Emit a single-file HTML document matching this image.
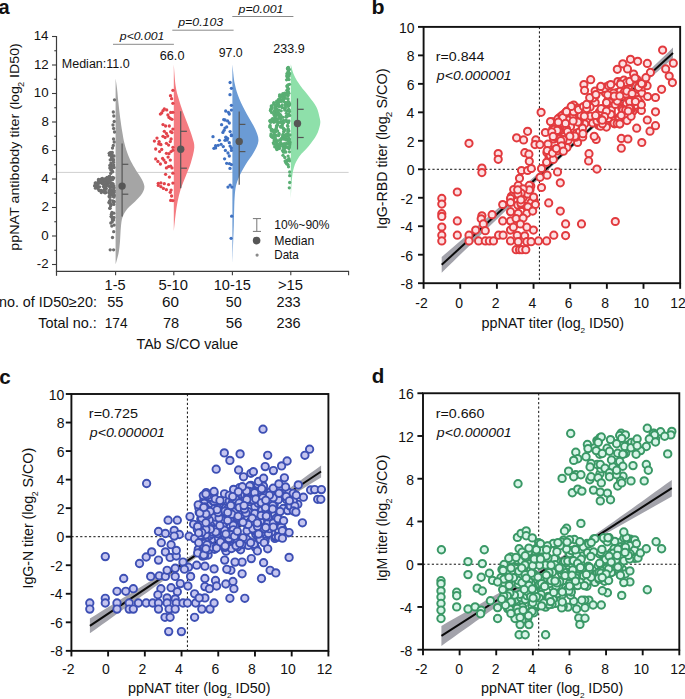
<!DOCTYPE html>
<html><head><meta charset="utf-8"><title>Figure</title>
<style>
html,body{margin:0;padding:0;background:#fff;}
body{width:685px;height:699px;overflow:hidden;}
svg{display:block;}
text{font-family:"Liberation Sans", sans-serif;}
</style></head>
<body>
<svg width="685" height="699" viewBox="0 0 685 699">
<rect width="685" height="699" fill="#fff"/>
<text x="-1.60" y="14.00" font-size="20.00" font-weight="bold" fill="#111" textLength="11.12" lengthAdjust="spacingAndGlyphs">a</text>
<text x="371.40" y="14.40" font-size="20.56" font-weight="bold" fill="#111" textLength="13.07" lengthAdjust="spacingAndGlyphs">b</text>
<text x="-0.82" y="383.50" font-size="20.19" font-weight="bold" fill="#111" textLength="11.46" lengthAdjust="spacingAndGlyphs">c</text>
<text x="371.88" y="383.40" font-size="20.00" font-weight="bold" fill="#111" textLength="12.58" lengthAdjust="spacingAndGlyphs">d</text>
<line x1="56.50" y1="172.40" x2="348.60" y2="172.40" stroke="#cfcfcf" stroke-width="1"/>
<path d="M115.60,78.60 L115.60,78.60 C115.85,80.38 116.62,85.13 117.10,89.30 C117.58,93.47 117.98,98.83 118.50,103.60 C119.02,108.37 119.57,113.15 120.20,117.90 C120.83,122.65 121.58,127.82 122.30,132.10 C123.02,136.38 123.53,139.78 124.50,143.60 C125.47,147.42 126.83,151.67 128.10,155.00 C129.37,158.33 130.60,160.75 132.10,163.60 C133.60,166.45 135.52,169.53 137.10,172.10 C138.68,174.67 140.38,176.60 141.60,179.00 C142.82,181.40 144.32,184.08 144.40,186.50 C144.48,188.92 143.65,191.02 142.10,193.50 C140.55,195.98 137.52,198.88 135.10,201.40 C132.68,203.92 129.68,205.98 127.60,208.60 C125.52,211.22 123.72,214.02 122.60,217.10 C121.48,220.18 121.33,223.05 120.90,227.10 C120.47,231.15 120.38,237.10 120.00,241.40 C119.62,245.70 119.33,249.03 118.60,252.90 C117.87,256.77 116.10,262.65 115.60,264.60 L115.60,264.60 Z" fill="#a5a5a5"/>
<path d="M173.80,64.60 L173.80,64.60 C174.10,68.13 174.80,80.13 175.60,85.80 C176.40,91.47 177.40,94.32 178.60,98.60 C179.80,102.88 181.27,107.20 182.80,111.50 C184.33,115.80 186.22,120.10 187.80,124.40 C189.38,128.70 191.22,133.43 192.30,137.30 C193.38,141.17 194.55,143.32 194.30,147.60 C194.05,151.88 192.22,158.28 190.80,163.00 C189.38,167.72 187.47,171.60 185.80,175.90 C184.13,180.20 182.17,184.52 180.80,188.80 C179.43,193.08 178.47,197.32 177.60,201.60 C176.73,205.88 176.23,209.55 175.60,214.50 C174.97,219.45 174.10,228.50 173.80,231.30 L173.80,231.30 Z" fill="#f47b81"/>
<path d="M232.40,64.50 L232.40,64.50 C232.80,67.75 233.63,78.25 234.80,84.00 C235.97,89.75 237.40,94.00 239.40,99.00 C241.40,104.00 244.17,109.00 246.80,114.00 C249.43,119.00 253.27,124.50 255.20,129.00 C257.13,133.50 258.70,137.00 258.40,141.00 C258.10,145.00 255.57,149.00 253.40,153.00 C251.23,157.00 248.00,160.50 245.40,165.00 C242.80,169.50 239.57,175.00 237.80,180.00 C236.03,185.00 235.47,187.50 234.80,195.00 C234.13,202.50 234.20,213.50 233.80,225.00 C233.40,236.50 232.63,257.50 232.40,264.00 L232.40,264.00 Z" fill="#6b9bd5"/>
<path d="M290.80,64.30 L290.80,64.30 C291.33,66.08 292.40,71.42 294.00,75.00 C295.60,78.58 297.90,82.22 300.40,85.80 C302.90,89.38 306.32,92.93 309.00,96.50 C311.68,100.07 314.72,103.62 316.50,107.20 C318.28,110.78 319.10,115.13 319.70,118.00 C320.30,120.87 320.63,121.55 320.10,124.40 C319.57,127.25 318.35,131.53 316.50,135.10 C314.65,138.67 311.87,142.22 309.00,145.80 C306.13,149.38 301.80,153.02 299.30,156.60 C296.80,160.18 295.25,163.37 294.00,167.30 C292.75,171.23 292.33,174.83 291.80,180.20 C291.27,185.57 290.97,196.28 290.80,199.50 L290.80,199.50 Z" fill="#8ee0aa"/>
<g fill="#6e6e6e"><circle cx="114.5" cy="99.8" r="1.65"/><circle cx="113.3" cy="112.0" r="1.65"/><circle cx="113.8" cy="116.0" r="1.65"/><circle cx="114.2" cy="121.5" r="1.65"/><circle cx="113.0" cy="125.0" r="1.65"/><circle cx="113.6" cy="128.5" r="1.65"/><circle cx="114.5" cy="132.0" r="1.65"/><circle cx="113.5" cy="139.0" r="1.65"/><circle cx="114.2" cy="142.0" r="1.65"/><circle cx="113.3" cy="145.5" r="1.65"/><circle cx="112.5" cy="148.0" r="1.65"/><circle cx="110.0" cy="153.5" r="1.65"/><circle cx="112.0" cy="154.5" r="1.65"/><circle cx="114.0" cy="156.0" r="1.65"/><circle cx="111.5" cy="158.0" r="1.65"/><circle cx="113.5" cy="160.0" r="1.65"/><circle cx="110.2" cy="159.8" r="1.65"/><circle cx="109.8" cy="168.1" r="1.65"/><circle cx="111.2" cy="165.2" r="1.65"/><circle cx="111.5" cy="153.0" r="1.65"/><circle cx="111.0" cy="152.5" r="1.65"/><circle cx="109.2" cy="153.3" r="1.65"/><circle cx="113.4" cy="162.3" r="1.65"/><circle cx="110.1" cy="154.7" r="1.65"/><circle cx="114.0" cy="167.5" r="1.65"/><circle cx="111.4" cy="166.2" r="1.65"/><circle cx="109.3" cy="176.4" r="1.65"/><circle cx="110.7" cy="173.4" r="1.65"/><circle cx="109.6" cy="155.2" r="1.65"/><circle cx="113.3" cy="159.4" r="1.65"/><circle cx="112.0" cy="156.1" r="1.65"/><circle cx="111.3" cy="167.8" r="1.65"/><circle cx="109.8" cy="165.5" r="1.65"/><circle cx="109.8" cy="153.0" r="1.65"/><circle cx="111.5" cy="168.9" r="1.65"/><circle cx="112.2" cy="159.5" r="1.65"/><circle cx="110.9" cy="163.1" r="1.65"/><circle cx="112.7" cy="171.8" r="1.65"/><circle cx="112.1" cy="157.7" r="1.65"/><circle cx="113.6" cy="164.9" r="1.65"/><circle cx="110.8" cy="170.1" r="1.65"/><circle cx="109.6" cy="176.5" r="1.65"/><circle cx="113.1" cy="162.2" r="1.65"/><circle cx="111.5" cy="155.4" r="1.65"/><circle cx="112.3" cy="152.5" r="1.65"/><circle cx="112.2" cy="171.0" r="1.65"/><circle cx="102.4" cy="191.3" r="1.65"/><circle cx="106.3" cy="188.5" r="1.65"/><circle cx="103.4" cy="186.6" r="1.65"/><circle cx="113.2" cy="190.8" r="1.65"/><circle cx="107.5" cy="184.9" r="1.65"/><circle cx="110.4" cy="178.4" r="1.65"/><circle cx="114.1" cy="187.7" r="1.65"/><circle cx="101.3" cy="190.5" r="1.65"/><circle cx="107.7" cy="183.5" r="1.65"/><circle cx="108.9" cy="177.8" r="1.65"/><circle cx="98.7" cy="180.1" r="1.65"/><circle cx="111.3" cy="178.3" r="1.65"/><circle cx="102.3" cy="179.5" r="1.65"/><circle cx="111.7" cy="183.6" r="1.65"/><circle cx="106.7" cy="178.7" r="1.65"/><circle cx="111.9" cy="186.1" r="1.65"/><circle cx="111.7" cy="190.4" r="1.65"/><circle cx="103.0" cy="181.8" r="1.65"/><circle cx="111.9" cy="183.1" r="1.65"/><circle cx="101.3" cy="192.6" r="1.65"/><circle cx="100.5" cy="180.2" r="1.65"/><circle cx="104.5" cy="181.1" r="1.65"/><circle cx="99.5" cy="186.8" r="1.65"/><circle cx="109.3" cy="177.5" r="1.65"/><circle cx="105.7" cy="183.3" r="1.65"/><circle cx="109.5" cy="192.6" r="1.65"/><circle cx="106.6" cy="185.6" r="1.65"/><circle cx="95.5" cy="188.2" r="1.65"/><circle cx="110.5" cy="191.7" r="1.65"/><circle cx="110.7" cy="191.3" r="1.65"/><circle cx="102.3" cy="183.6" r="1.65"/><circle cx="108.8" cy="179.0" r="1.65"/><circle cx="102.4" cy="178.4" r="1.65"/><circle cx="98.5" cy="180.7" r="1.65"/><circle cx="95.7" cy="182.8" r="1.65"/><circle cx="107.2" cy="177.4" r="1.65"/><circle cx="104.9" cy="179.0" r="1.65"/><circle cx="112.9" cy="177.8" r="1.65"/><circle cx="97.3" cy="187.2" r="1.65"/><circle cx="101.8" cy="181.4" r="1.65"/><circle cx="97.0" cy="183.2" r="1.65"/><circle cx="114.1" cy="190.9" r="1.65"/><circle cx="103.9" cy="184.8" r="1.65"/><circle cx="101.7" cy="178.8" r="1.65"/><circle cx="99.9" cy="182.8" r="1.65"/><circle cx="99.1" cy="190.6" r="1.65"/><circle cx="113.7" cy="177.8" r="1.65"/><circle cx="97.2" cy="185.8" r="1.65"/><circle cx="94.8" cy="186.0" r="1.65"/><circle cx="113.8" cy="185.8" r="1.65"/><circle cx="108.9" cy="191.1" r="1.65"/><circle cx="102.1" cy="181.6" r="1.65"/><circle cx="110.2" cy="180.1" r="1.65"/><circle cx="109.8" cy="185.9" r="1.65"/><circle cx="99.1" cy="182.6" r="1.65"/><circle cx="113.9" cy="190.3" r="1.65"/><circle cx="110.8" cy="191.0" r="1.65"/><circle cx="109.5" cy="190.4" r="1.65"/><circle cx="105.1" cy="181.0" r="1.65"/><circle cx="95.2" cy="183.1" r="1.65"/><circle cx="106.8" cy="177.8" r="1.65"/><circle cx="108.3" cy="181.5" r="1.65"/><circle cx="105.8" cy="192.6" r="1.65"/><circle cx="114.0" cy="192.3" r="1.65"/><circle cx="104.5" cy="192.6" r="1.65"/><circle cx="99.6" cy="180.9" r="1.65"/><circle cx="99.3" cy="180.5" r="1.65"/><circle cx="112.2" cy="187.3" r="1.65"/><circle cx="104.9" cy="190.8" r="1.65"/><circle cx="110.2" cy="187.8" r="1.65"/><circle cx="109.5" cy="178.7" r="1.65"/><circle cx="110.6" cy="191.9" r="1.65"/><circle cx="104.3" cy="189.3" r="1.65"/><circle cx="110.4" cy="180.2" r="1.65"/><circle cx="110.3" cy="182.7" r="1.65"/><circle cx="105.2" cy="192.8" r="1.65"/><circle cx="113.1" cy="183.8" r="1.65"/><circle cx="98.2" cy="188.9" r="1.65"/><circle cx="100.8" cy="179.4" r="1.65"/><circle cx="111.0" cy="191.8" r="1.65"/><circle cx="111.3" cy="179.7" r="1.65"/><circle cx="109.2" cy="193.0" r="1.65"/><circle cx="105.4" cy="183.0" r="1.65"/><circle cx="98.5" cy="179.5" r="1.65"/><circle cx="109.0" cy="192.8" r="1.65"/><circle cx="112.9" cy="185.8" r="1.65"/><circle cx="111.6" cy="184.3" r="1.65"/><circle cx="100.0" cy="190.5" r="1.65"/><circle cx="100.8" cy="181.4" r="1.65"/><circle cx="106.4" cy="181.2" r="1.65"/><circle cx="103.1" cy="181.5" r="1.65"/><circle cx="112.8" cy="179.5" r="1.65"/><circle cx="103.6" cy="183.0" r="1.65"/><circle cx="112.3" cy="186.7" r="1.65"/><circle cx="112.6" cy="184.1" r="1.65"/><circle cx="104.9" cy="185.4" r="1.65"/><circle cx="94.7" cy="185.7" r="1.65"/><circle cx="97.9" cy="184.4" r="1.65"/><circle cx="112.5" cy="177.5" r="1.65"/><circle cx="104.9" cy="180.1" r="1.65"/><circle cx="105.7" cy="188.9" r="1.65"/><circle cx="104.8" cy="182.6" r="1.65"/><circle cx="109.9" cy="186.2" r="1.65"/><circle cx="107.7" cy="179.1" r="1.65"/><circle cx="100.5" cy="181.4" r="1.65"/><circle cx="105.0" cy="189.7" r="1.65"/><circle cx="109.4" cy="186.3" r="1.65"/><circle cx="105.1" cy="191.9" r="1.65"/><circle cx="104.4" cy="187.1" r="1.65"/><circle cx="108.1" cy="185.5" r="1.65"/><circle cx="111.5" cy="195.2" r="1.65"/><circle cx="113.9" cy="195.3" r="1.65"/><circle cx="113.5" cy="196.2" r="1.65"/><circle cx="110.0" cy="197.3" r="1.65"/><circle cx="113.9" cy="195.6" r="1.65"/><circle cx="109.2" cy="196.8" r="1.65"/><circle cx="110.9" cy="193.8" r="1.65"/><circle cx="109.7" cy="193.6" r="1.65"/><circle cx="112.2" cy="193.6" r="1.65"/><circle cx="113.6" cy="196.6" r="1.65"/><circle cx="112.5" cy="193.9" r="1.65"/><circle cx="109.2" cy="196.1" r="1.65"/><circle cx="114.0" cy="197.0" r="1.65"/><circle cx="113.9" cy="194.2" r="1.65"/><circle cx="111.9" cy="212.4" r="1.65"/><circle cx="113.7" cy="231.7" r="1.65"/><circle cx="111.2" cy="204.7" r="1.65"/><circle cx="111.5" cy="216.3" r="1.65"/><circle cx="110.6" cy="205.9" r="1.65"/><circle cx="110.8" cy="223.0" r="1.65"/><circle cx="112.0" cy="217.5" r="1.65"/><circle cx="110.2" cy="200.1" r="1.65"/><circle cx="112.4" cy="219.8" r="1.65"/><circle cx="114.1" cy="201.6" r="1.65"/><circle cx="114.1" cy="225.1" r="1.65"/><circle cx="110.1" cy="202.9" r="1.65"/><circle cx="112.9" cy="200.8" r="1.65"/><circle cx="109.9" cy="208.3" r="1.65"/><circle cx="113.8" cy="213.2" r="1.65"/><circle cx="111.8" cy="226.1" r="1.65"/><circle cx="113.8" cy="204.4" r="1.65"/><circle cx="113.0" cy="218.0" r="1.65"/><circle cx="108.9" cy="202.4" r="1.65"/><circle cx="112.2" cy="221.9" r="1.65"/><circle cx="113.8" cy="201.9" r="1.65"/><circle cx="113.5" cy="220.1" r="1.65"/><circle cx="113.4" cy="202.2" r="1.65"/><circle cx="113.4" cy="201.7" r="1.65"/><circle cx="111.4" cy="214.2" r="1.65"/><circle cx="113.9" cy="217.5" r="1.65"/><circle cx="109.9" cy="208.2" r="1.65"/><circle cx="111.1" cy="216.6" r="1.65"/><circle cx="109.5" cy="203.1" r="1.65"/><circle cx="109.6" cy="201.1" r="1.65"/><circle cx="112.5" cy="237.5" r="1.65"/><circle cx="110.2" cy="249.8" r="1.65"/><circle cx="113.6" cy="249.8" r="1.65"/></g>
<g fill="#e2434b"><circle cx="172.9" cy="90.3" r="1.65"/><circle cx="170.5" cy="95.7" r="1.65"/><circle cx="171.6" cy="98.7" r="1.65"/><circle cx="172.9" cy="103.3" r="1.65"/><circle cx="164.3" cy="109.0" r="1.65"/><circle cx="166.7" cy="109.9" r="1.65"/><circle cx="163.0" cy="110.7" r="1.65"/><circle cx="161.7" cy="112.9" r="1.65"/><circle cx="160.4" cy="114.1" r="1.65"/><circle cx="170.7" cy="112.4" r="1.65"/><circle cx="172.9" cy="112.3" r="1.65"/><circle cx="167.9" cy="115.0" r="1.65"/><circle cx="169.0" cy="117.4" r="1.65"/><circle cx="170.5" cy="118.6" r="1.65"/><circle cx="172.0" cy="119.3" r="1.65"/><circle cx="163.0" cy="124.6" r="1.65"/><circle cx="165.6" cy="126.0" r="1.65"/><circle cx="169.3" cy="126.0" r="1.65"/><circle cx="172.9" cy="129.1" r="1.65"/><circle cx="164.3" cy="131.3" r="1.65"/><circle cx="170.7" cy="131.7" r="1.65"/><circle cx="172.0" cy="132.6" r="1.65"/><circle cx="166.4" cy="133.4" r="1.65"/><circle cx="163.0" cy="136.3" r="1.65"/><circle cx="165.1" cy="137.5" r="1.65"/><circle cx="167.7" cy="136.0" r="1.65"/><circle cx="157.0" cy="138.1" r="1.65"/><circle cx="154.4" cy="141.1" r="1.65"/><circle cx="159.1" cy="141.6" r="1.65"/><circle cx="171.1" cy="139.0" r="1.65"/><circle cx="170.3" cy="141.6" r="1.65"/><circle cx="166.4" cy="143.3" r="1.65"/><circle cx="160.4" cy="144.1" r="1.65"/><circle cx="158.7" cy="143.9" r="1.65"/><circle cx="160.9" cy="144.7" r="1.65"/><circle cx="168.6" cy="145.1" r="1.65"/><circle cx="172.9" cy="147.3" r="1.65"/><circle cx="155.7" cy="149.0" r="1.65"/><circle cx="161.7" cy="149.4" r="1.65"/><circle cx="159.6" cy="151.6" r="1.65"/><circle cx="171.1" cy="151.6" r="1.65"/><circle cx="172.9" cy="150.3" r="1.65"/><circle cx="166.4" cy="153.3" r="1.65"/><circle cx="169.0" cy="153.7" r="1.65"/><circle cx="168.1" cy="157.1" r="1.65"/><circle cx="155.7" cy="158.9" r="1.65"/><circle cx="162.6" cy="158.4" r="1.65"/><circle cx="163.9" cy="160.1" r="1.65"/><circle cx="170.3" cy="160.1" r="1.65"/><circle cx="157.9" cy="161.4" r="1.65"/><circle cx="165.6" cy="162.5" r="1.65"/><circle cx="160.4" cy="164.0" r="1.65"/><circle cx="166.4" cy="167.9" r="1.65"/><circle cx="168.6" cy="166.6" r="1.65"/><circle cx="170.7" cy="166.1" r="1.65"/><circle cx="172.0" cy="167.9" r="1.65"/><circle cx="172.9" cy="173.2" r="1.65"/><circle cx="165.6" cy="174.3" r="1.65"/><circle cx="169.4" cy="177.1" r="1.65"/><circle cx="158.3" cy="183.3" r="1.65"/><circle cx="160.9" cy="182.9" r="1.65"/><circle cx="164.3" cy="183.7" r="1.65"/><circle cx="168.6" cy="184.6" r="1.65"/><circle cx="172.9" cy="183.1" r="1.65"/><circle cx="158.3" cy="185.4" r="1.65"/><circle cx="160.9" cy="186.7" r="1.65"/><circle cx="163.4" cy="188.4" r="1.65"/><circle cx="166.4" cy="189.7" r="1.65"/><circle cx="171.1" cy="190.1" r="1.65"/><circle cx="170.3" cy="192.3" r="1.65"/><circle cx="171.6" cy="196.0" r="1.65"/><circle cx="170.7" cy="200.4" r="1.65"/><circle cx="172.9" cy="200.6" r="1.65"/></g>
<g fill="#3f71c2"><circle cx="230.1" cy="82.5" r="1.65"/><circle cx="231.4" cy="88.3" r="1.65"/><circle cx="230.0" cy="94.7" r="1.65"/><circle cx="231.4" cy="105.3" r="1.65"/><circle cx="225.7" cy="111.0" r="1.65"/><circle cx="228.4" cy="112.3" r="1.65"/><circle cx="231.4" cy="110.1" r="1.65"/><circle cx="229.3" cy="114.0" r="1.65"/><circle cx="223.7" cy="119.6" r="1.65"/><circle cx="225.0" cy="120.0" r="1.65"/><circle cx="227.6" cy="120.9" r="1.65"/><circle cx="229.3" cy="123.0" r="1.65"/><circle cx="221.6" cy="124.7" r="1.65"/><circle cx="226.7" cy="126.9" r="1.65"/><circle cx="225.0" cy="128.1" r="1.65"/><circle cx="224.1" cy="130.3" r="1.65"/><circle cx="222.9" cy="132.4" r="1.65"/><circle cx="230.1" cy="131.6" r="1.65"/><circle cx="231.4" cy="135.0" r="1.65"/><circle cx="213.0" cy="136.7" r="1.65"/><circle cx="225.9" cy="137.1" r="1.65"/><circle cx="225.9" cy="137.6" r="1.65"/><circle cx="227.6" cy="138.4" r="1.65"/><circle cx="231.4" cy="135.7" r="1.65"/><circle cx="219.4" cy="140.3" r="1.65"/><circle cx="225.0" cy="140.3" r="1.65"/><circle cx="227.1" cy="140.1" r="1.65"/><circle cx="229.3" cy="142.7" r="1.65"/><circle cx="215.6" cy="145.7" r="1.65"/><circle cx="218.1" cy="145.3" r="1.65"/><circle cx="221.1" cy="144.3" r="1.65"/><circle cx="223.3" cy="146.6" r="1.65"/><circle cx="213.9" cy="148.3" r="1.65"/><circle cx="215.6" cy="147.9" r="1.65"/><circle cx="230.1" cy="146.1" r="1.65"/><circle cx="231.4" cy="147.9" r="1.65"/><circle cx="231.4" cy="150.4" r="1.65"/><circle cx="225.4" cy="150.4" r="1.65"/><circle cx="228.0" cy="153.0" r="1.65"/><circle cx="229.3" cy="156.0" r="1.65"/><circle cx="224.6" cy="158.8" r="1.65"/><circle cx="226.7" cy="163.3" r="1.65"/><circle cx="229.5" cy="163.7" r="1.65"/><circle cx="231.4" cy="164.6" r="1.65"/><circle cx="230.0" cy="168.4" r="1.65"/><circle cx="228.0" cy="187.1" r="1.65"/><circle cx="230.1" cy="185.1" r="1.65"/><circle cx="231.9" cy="187.1" r="1.65"/><circle cx="231.7" cy="216.2" r="1.65"/><circle cx="231.1" cy="238.3" r="1.65"/></g>
<g fill="#59ae73"><circle cx="287.6" cy="75.1" r="1.65"/><circle cx="286.8" cy="86.1" r="1.65"/><circle cx="286.6" cy="79.8" r="1.65"/><circle cx="286.7" cy="76.0" r="1.65"/><circle cx="287.0" cy="73.6" r="1.65"/><circle cx="287.8" cy="85.5" r="1.65"/><circle cx="288.3" cy="72.1" r="1.65"/><circle cx="286.8" cy="90.4" r="1.65"/><circle cx="287.5" cy="87.6" r="1.65"/><circle cx="289.0" cy="79.6" r="1.65"/><circle cx="288.0" cy="77.1" r="1.65"/><circle cx="289.5" cy="84.3" r="1.65"/><circle cx="289.1" cy="75.9" r="1.65"/><circle cx="288.1" cy="84.8" r="1.65"/><circle cx="287.5" cy="77.4" r="1.65"/><circle cx="287.7" cy="68.8" r="1.65"/><circle cx="289.0" cy="69.2" r="1.65"/><circle cx="287.4" cy="73.8" r="1.65"/><circle cx="289.2" cy="69.6" r="1.65"/><circle cx="288.5" cy="88.8" r="1.65"/><circle cx="287.5" cy="74.4" r="1.65"/><circle cx="288.1" cy="74.7" r="1.65"/><circle cx="288.2" cy="71.4" r="1.65"/><circle cx="289.5" cy="73.9" r="1.65"/><circle cx="288.3" cy="91.3" r="1.65"/><circle cx="289.5" cy="73.5" r="1.65"/><circle cx="287.8" cy="75.1" r="1.65"/><circle cx="288.3" cy="67.5" r="1.65"/><circle cx="287.9" cy="79.1" r="1.65"/><circle cx="288.3" cy="72.4" r="1.65"/><circle cx="288.0" cy="67.6" r="1.65"/><circle cx="288.2" cy="69.7" r="1.65"/><circle cx="287.5" cy="68.5" r="1.65"/><circle cx="287.5" cy="75.0" r="1.65"/><circle cx="280.5" cy="126.4" r="1.65"/><circle cx="283.2" cy="135.8" r="1.65"/><circle cx="287.5" cy="133.8" r="1.65"/><circle cx="276.2" cy="115.2" r="1.65"/><circle cx="277.4" cy="149.1" r="1.65"/><circle cx="282.9" cy="134.3" r="1.65"/><circle cx="288.1" cy="95.5" r="1.65"/><circle cx="283.7" cy="143.8" r="1.65"/><circle cx="286.2" cy="134.8" r="1.65"/><circle cx="283.4" cy="100.9" r="1.65"/><circle cx="286.6" cy="121.7" r="1.65"/><circle cx="286.7" cy="138.9" r="1.65"/><circle cx="287.8" cy="126.3" r="1.65"/><circle cx="283.8" cy="131.9" r="1.65"/><circle cx="271.3" cy="106.1" r="1.65"/><circle cx="281.5" cy="100.6" r="1.65"/><circle cx="287.9" cy="99.0" r="1.65"/><circle cx="282.4" cy="124.8" r="1.65"/><circle cx="283.5" cy="128.7" r="1.65"/><circle cx="269.8" cy="120.9" r="1.65"/><circle cx="285.2" cy="138.5" r="1.65"/><circle cx="280.5" cy="121.7" r="1.65"/><circle cx="271.3" cy="130.6" r="1.65"/><circle cx="275.2" cy="135.0" r="1.65"/><circle cx="281.4" cy="97.2" r="1.65"/><circle cx="274.2" cy="134.6" r="1.65"/><circle cx="289.4" cy="135.2" r="1.65"/><circle cx="277.4" cy="121.2" r="1.65"/><circle cx="283.5" cy="120.3" r="1.65"/><circle cx="282.6" cy="136.7" r="1.65"/><circle cx="271.5" cy="129.6" r="1.65"/><circle cx="279.2" cy="101.4" r="1.65"/><circle cx="276.3" cy="135.4" r="1.65"/><circle cx="270.1" cy="125.4" r="1.65"/><circle cx="281.6" cy="96.5" r="1.65"/><circle cx="283.8" cy="131.3" r="1.65"/><circle cx="275.8" cy="131.5" r="1.65"/><circle cx="279.1" cy="122.4" r="1.65"/><circle cx="272.1" cy="119.6" r="1.65"/><circle cx="276.6" cy="143.9" r="1.65"/><circle cx="289.0" cy="148.8" r="1.65"/><circle cx="284.1" cy="94.0" r="1.65"/><circle cx="289.3" cy="139.7" r="1.65"/><circle cx="275.1" cy="118.6" r="1.65"/><circle cx="288.9" cy="105.0" r="1.65"/><circle cx="282.2" cy="105.0" r="1.65"/><circle cx="283.3" cy="101.1" r="1.65"/><circle cx="276.6" cy="147.3" r="1.65"/><circle cx="281.0" cy="139.8" r="1.65"/><circle cx="284.9" cy="143.6" r="1.65"/><circle cx="287.9" cy="106.2" r="1.65"/><circle cx="270.2" cy="120.7" r="1.65"/><circle cx="284.6" cy="93.2" r="1.65"/><circle cx="275.8" cy="118.7" r="1.65"/><circle cx="280.8" cy="101.0" r="1.65"/><circle cx="286.7" cy="111.0" r="1.65"/><circle cx="287.3" cy="93.1" r="1.65"/><circle cx="274.4" cy="140.8" r="1.65"/><circle cx="285.3" cy="145.8" r="1.65"/><circle cx="278.3" cy="144.4" r="1.65"/><circle cx="277.6" cy="114.2" r="1.65"/><circle cx="284.0" cy="149.9" r="1.65"/><circle cx="278.4" cy="113.6" r="1.65"/><circle cx="271.0" cy="108.7" r="1.65"/><circle cx="287.9" cy="98.8" r="1.65"/><circle cx="288.6" cy="109.3" r="1.65"/><circle cx="275.4" cy="107.2" r="1.65"/><circle cx="273.6" cy="122.1" r="1.65"/><circle cx="289.0" cy="114.3" r="1.65"/><circle cx="286.7" cy="143.4" r="1.65"/><circle cx="288.2" cy="129.0" r="1.65"/><circle cx="282.9" cy="146.6" r="1.65"/><circle cx="271.1" cy="134.0" r="1.65"/><circle cx="279.1" cy="134.7" r="1.65"/><circle cx="283.0" cy="135.9" r="1.65"/><circle cx="271.0" cy="109.3" r="1.65"/><circle cx="276.0" cy="145.8" r="1.65"/><circle cx="276.6" cy="119.9" r="1.65"/><circle cx="284.7" cy="110.0" r="1.65"/><circle cx="278.9" cy="148.6" r="1.65"/><circle cx="276.0" cy="130.4" r="1.65"/><circle cx="277.7" cy="124.8" r="1.65"/><circle cx="276.6" cy="102.5" r="1.65"/><circle cx="288.2" cy="104.8" r="1.65"/><circle cx="274.2" cy="121.3" r="1.65"/><circle cx="289.8" cy="144.7" r="1.65"/><circle cx="272.5" cy="118.6" r="1.65"/><circle cx="273.7" cy="104.0" r="1.65"/><circle cx="271.6" cy="112.5" r="1.65"/><circle cx="275.5" cy="106.6" r="1.65"/><circle cx="287.6" cy="125.5" r="1.65"/><circle cx="278.5" cy="135.7" r="1.65"/><circle cx="280.3" cy="116.6" r="1.65"/><circle cx="276.5" cy="114.5" r="1.65"/><circle cx="281.7" cy="96.5" r="1.65"/><circle cx="276.7" cy="148.2" r="1.65"/><circle cx="282.4" cy="121.7" r="1.65"/><circle cx="276.4" cy="142.2" r="1.65"/><circle cx="275.0" cy="108.4" r="1.65"/><circle cx="278.7" cy="115.8" r="1.65"/><circle cx="287.6" cy="147.4" r="1.65"/><circle cx="273.3" cy="142.8" r="1.65"/><circle cx="286.7" cy="94.8" r="1.65"/><circle cx="281.2" cy="144.1" r="1.65"/><circle cx="269.9" cy="126.5" r="1.65"/><circle cx="288.4" cy="115.3" r="1.65"/><circle cx="287.3" cy="140.1" r="1.65"/><circle cx="278.7" cy="148.4" r="1.65"/><circle cx="279.6" cy="99.2" r="1.65"/><circle cx="283.5" cy="122.8" r="1.65"/><circle cx="285.6" cy="146.7" r="1.65"/><circle cx="285.2" cy="129.9" r="1.65"/><circle cx="280.8" cy="119.1" r="1.65"/><circle cx="287.5" cy="95.3" r="1.65"/><circle cx="288.4" cy="106.3" r="1.65"/><circle cx="276.0" cy="129.8" r="1.65"/><circle cx="280.3" cy="100.3" r="1.65"/><circle cx="283.9" cy="129.3" r="1.65"/><circle cx="278.5" cy="99.4" r="1.65"/><circle cx="281.5" cy="122.9" r="1.65"/><circle cx="274.1" cy="115.1" r="1.65"/><circle cx="270.1" cy="127.3" r="1.65"/><circle cx="279.1" cy="110.2" r="1.65"/><circle cx="284.5" cy="147.7" r="1.65"/><circle cx="281.1" cy="143.4" r="1.65"/><circle cx="275.3" cy="106.4" r="1.65"/><circle cx="285.4" cy="147.8" r="1.65"/><circle cx="270.4" cy="110.5" r="1.65"/><circle cx="283.3" cy="121.4" r="1.65"/><circle cx="274.9" cy="116.9" r="1.65"/><circle cx="288.4" cy="131.0" r="1.65"/><circle cx="271.5" cy="105.9" r="1.65"/><circle cx="278.3" cy="112.3" r="1.65"/><circle cx="274.0" cy="131.9" r="1.65"/><circle cx="285.1" cy="138.4" r="1.65"/><circle cx="273.9" cy="121.8" r="1.65"/><circle cx="279.6" cy="148.3" r="1.65"/><circle cx="276.0" cy="139.7" r="1.65"/><circle cx="285.4" cy="105.6" r="1.65"/><circle cx="288.9" cy="109.8" r="1.65"/><circle cx="273.5" cy="121.3" r="1.65"/><circle cx="278.9" cy="105.7" r="1.65"/><circle cx="288.9" cy="130.9" r="1.65"/><circle cx="281.3" cy="101.3" r="1.65"/><circle cx="289.4" cy="105.1" r="1.65"/><circle cx="276.7" cy="101.1" r="1.65"/><circle cx="283.0" cy="96.4" r="1.65"/><circle cx="288.0" cy="144.2" r="1.65"/><circle cx="289.9" cy="134.8" r="1.65"/><circle cx="279.3" cy="146.1" r="1.65"/><circle cx="288.8" cy="103.6" r="1.65"/><circle cx="271.0" cy="135.5" r="1.65"/><circle cx="277.6" cy="130.9" r="1.65"/><circle cx="276.4" cy="114.3" r="1.65"/><circle cx="273.9" cy="102.6" r="1.65"/><circle cx="277.0" cy="108.9" r="1.65"/><circle cx="276.5" cy="147.5" r="1.65"/><circle cx="277.9" cy="148.0" r="1.65"/><circle cx="286.3" cy="113.3" r="1.65"/><circle cx="279.7" cy="139.9" r="1.65"/><circle cx="284.0" cy="95.8" r="1.65"/><circle cx="288.3" cy="114.2" r="1.65"/><circle cx="278.5" cy="104.0" r="1.65"/><circle cx="273.9" cy="144.1" r="1.65"/><circle cx="286.1" cy="116.4" r="1.65"/><circle cx="271.6" cy="136.7" r="1.65"/><circle cx="279.6" cy="95.0" r="1.65"/><circle cx="278.0" cy="145.4" r="1.65"/><circle cx="287.9" cy="135.6" r="1.65"/><circle cx="275.3" cy="112.3" r="1.65"/><circle cx="284.1" cy="147.6" r="1.65"/><circle cx="284.3" cy="107.9" r="1.65"/><circle cx="275.4" cy="111.0" r="1.65"/><circle cx="287.3" cy="93.2" r="1.65"/><circle cx="284.0" cy="145.2" r="1.65"/><circle cx="274.7" cy="146.8" r="1.65"/><circle cx="279.8" cy="106.3" r="1.65"/><circle cx="289.2" cy="147.5" r="1.65"/><circle cx="274.7" cy="115.0" r="1.65"/><circle cx="279.6" cy="117.5" r="1.65"/><circle cx="276.9" cy="145.9" r="1.65"/><circle cx="285.1" cy="138.7" r="1.65"/><circle cx="285.8" cy="139.9" r="1.65"/><circle cx="276.5" cy="127.6" r="1.65"/><circle cx="277.1" cy="111.2" r="1.65"/><circle cx="272.6" cy="137.6" r="1.65"/><circle cx="285.4" cy="104.2" r="1.65"/><circle cx="271.5" cy="107.1" r="1.65"/><circle cx="285.0" cy="94.9" r="1.65"/><circle cx="289.5" cy="111.6" r="1.65"/><circle cx="289.7" cy="143.4" r="1.65"/><circle cx="271.8" cy="108.1" r="1.65"/><circle cx="283.9" cy="98.5" r="1.65"/><circle cx="279.0" cy="133.5" r="1.65"/><circle cx="278.6" cy="106.3" r="1.65"/><circle cx="283.4" cy="128.4" r="1.65"/><circle cx="286.9" cy="135.6" r="1.65"/><circle cx="272.4" cy="130.9" r="1.65"/><circle cx="277.5" cy="140.9" r="1.65"/><circle cx="277.3" cy="125.3" r="1.65"/><circle cx="274.1" cy="135.1" r="1.65"/><circle cx="275.0" cy="107.1" r="1.65"/><circle cx="288.2" cy="101.7" r="1.65"/><circle cx="276.4" cy="126.0" r="1.65"/><circle cx="289.7" cy="115.6" r="1.65"/><circle cx="274.4" cy="121.9" r="1.65"/><circle cx="283.6" cy="139.1" r="1.65"/><circle cx="276.8" cy="149.5" r="1.65"/><circle cx="286.2" cy="120.1" r="1.65"/><circle cx="288.4" cy="140.9" r="1.65"/><circle cx="282.1" cy="95.3" r="1.65"/><circle cx="279.9" cy="99.8" r="1.65"/><circle cx="283.7" cy="148.5" r="1.65"/><circle cx="280.0" cy="146.0" r="1.65"/><circle cx="280.5" cy="142.4" r="1.65"/><circle cx="285.5" cy="107.8" r="1.65"/><circle cx="276.0" cy="146.9" r="1.65"/><circle cx="282.3" cy="127.0" r="1.65"/><circle cx="278.1" cy="105.4" r="1.65"/><circle cx="278.9" cy="101.1" r="1.65"/><circle cx="282.0" cy="107.5" r="1.65"/><circle cx="274.1" cy="130.1" r="1.65"/><circle cx="282.8" cy="93.6" r="1.65"/><circle cx="273.7" cy="131.7" r="1.65"/><circle cx="274.0" cy="110.8" r="1.65"/><circle cx="281.5" cy="138.3" r="1.65"/><circle cx="279.6" cy="96.6" r="1.65"/><circle cx="280.8" cy="115.5" r="1.65"/><circle cx="271.8" cy="129.4" r="1.65"/><circle cx="285.1" cy="102.3" r="1.65"/><circle cx="275.4" cy="116.4" r="1.65"/><circle cx="289.0" cy="110.5" r="1.65"/><circle cx="281.2" cy="110.8" r="1.65"/><circle cx="278.1" cy="113.4" r="1.65"/><circle cx="289.8" cy="142.3" r="1.65"/><circle cx="273.7" cy="113.7" r="1.65"/><circle cx="274.2" cy="134.5" r="1.65"/><circle cx="288.9" cy="93.3" r="1.65"/><circle cx="286.3" cy="117.2" r="1.65"/><circle cx="287.5" cy="116.2" r="1.65"/><circle cx="273.0" cy="119.3" r="1.65"/><circle cx="285.1" cy="93.8" r="1.65"/><circle cx="288.1" cy="129.5" r="1.65"/><circle cx="285.4" cy="98.1" r="1.65"/><circle cx="279.9" cy="114.1" r="1.65"/><circle cx="279.7" cy="101.3" r="1.65"/><circle cx="288.4" cy="122.7" r="1.65"/><circle cx="283.7" cy="99.2" r="1.65"/><circle cx="289.3" cy="138.9" r="1.65"/><circle cx="274.1" cy="104.2" r="1.65"/><circle cx="289.5" cy="146.8" r="1.65"/><circle cx="270.8" cy="120.5" r="1.65"/><circle cx="280.2" cy="145.8" r="1.65"/><circle cx="283.7" cy="144.5" r="1.65"/><circle cx="274.8" cy="140.0" r="1.65"/><circle cx="275.3" cy="137.8" r="1.65"/><circle cx="286.8" cy="116.1" r="1.65"/><circle cx="275.3" cy="140.3" r="1.65"/><circle cx="278.6" cy="105.4" r="1.65"/><circle cx="277.5" cy="122.5" r="1.65"/><circle cx="280.5" cy="100.0" r="1.65"/><circle cx="287.9" cy="134.3" r="1.65"/><circle cx="285.1" cy="95.3" r="1.65"/><circle cx="271.3" cy="136.2" r="1.65"/><circle cx="274.3" cy="140.8" r="1.65"/><circle cx="280.9" cy="127.2" r="1.65"/><circle cx="276.1" cy="128.7" r="1.65"/><circle cx="281.4" cy="116.9" r="1.65"/><circle cx="283.0" cy="117.3" r="1.65"/><circle cx="278.5" cy="118.5" r="1.65"/><circle cx="285.8" cy="94.3" r="1.65"/><circle cx="274.5" cy="120.9" r="1.65"/><circle cx="285.7" cy="136.5" r="1.65"/><circle cx="273.3" cy="119.1" r="1.65"/><circle cx="271.9" cy="120.0" r="1.65"/><circle cx="282.6" cy="100.3" r="1.65"/><circle cx="283.3" cy="98.2" r="1.65"/><circle cx="270.6" cy="122.1" r="1.65"/><circle cx="271.6" cy="129.3" r="1.65"/><circle cx="285.5" cy="134.8" r="1.65"/><circle cx="270.8" cy="122.2" r="1.65"/><circle cx="277.4" cy="121.7" r="1.65"/><circle cx="276.6" cy="147.2" r="1.65"/><circle cx="289.8" cy="141.9" r="1.65"/><circle cx="286.3" cy="134.7" r="1.65"/><circle cx="289.6" cy="104.0" r="1.65"/><circle cx="289.0" cy="121.0" r="1.65"/><circle cx="276.5" cy="145.2" r="1.65"/><circle cx="288.6" cy="137.9" r="1.65"/><circle cx="282.5" cy="96.7" r="1.65"/><circle cx="273.7" cy="136.1" r="1.65"/><circle cx="277.9" cy="144.1" r="1.65"/><circle cx="274.4" cy="139.5" r="1.65"/><circle cx="288.3" cy="121.6" r="1.65"/><circle cx="276.3" cy="104.9" r="1.65"/><circle cx="276.2" cy="121.8" r="1.65"/><circle cx="280.9" cy="95.1" r="1.65"/><circle cx="288.9" cy="102.2" r="1.65"/><circle cx="287.8" cy="131.7" r="1.65"/><circle cx="286.5" cy="102.6" r="1.65"/><circle cx="285.9" cy="152.0" r="1.65"/><circle cx="286.6" cy="160.8" r="1.65"/><circle cx="288.1" cy="164.8" r="1.65"/><circle cx="289.0" cy="159.9" r="1.65"/><circle cx="289.5" cy="151.8" r="1.65"/><circle cx="286.8" cy="160.7" r="1.65"/><circle cx="286.8" cy="163.6" r="1.65"/><circle cx="288.5" cy="166.8" r="1.65"/><circle cx="288.1" cy="156.1" r="1.65"/><circle cx="284.8" cy="157.5" r="1.65"/><circle cx="285.7" cy="162.6" r="1.65"/><circle cx="286.9" cy="163.9" r="1.65"/><circle cx="289.5" cy="160.9" r="1.65"/><circle cx="287.9" cy="160.0" r="1.65"/><circle cx="283.0" cy="155.3" r="1.65"/><circle cx="282.5" cy="150.6" r="1.65"/><circle cx="286.9" cy="160.5" r="1.65"/><circle cx="289.0" cy="158.7" r="1.65"/><circle cx="283.6" cy="152.2" r="1.65"/><circle cx="285.1" cy="161.1" r="1.65"/><circle cx="284.1" cy="150.0" r="1.65"/><circle cx="284.5" cy="151.8" r="1.65"/><circle cx="289.7" cy="172.0" r="1.65"/><circle cx="289.7" cy="175.7" r="1.65"/><circle cx="289.7" cy="182.5" r="1.65"/><circle cx="289.3" cy="187.8" r="1.65"/></g>
<line x1="122.10" y1="143.60" x2="122.10" y2="216.50" stroke="#555" stroke-width="1.2"/>
<line x1="122.10" y1="164.30" x2="128.30" y2="164.30" stroke="#555" stroke-width="1.2"/>
<line x1="122.10" y1="194.20" x2="128.30" y2="194.20" stroke="#555" stroke-width="1.2"/>
<circle cx="122.1" cy="186.1" r="3.7" fill="#565656"/>
<line x1="180.70" y1="111.20" x2="180.70" y2="188.20" stroke="#555" stroke-width="1.2"/>
<line x1="180.70" y1="131.30" x2="186.90" y2="131.30" stroke="#555" stroke-width="1.2"/>
<line x1="180.70" y1="168.20" x2="186.90" y2="168.20" stroke="#555" stroke-width="1.2"/>
<circle cx="180.7" cy="149.3" r="3.7" fill="#565656"/>
<line x1="239.20" y1="111.50" x2="239.20" y2="184.70" stroke="#555" stroke-width="1.2"/>
<line x1="239.20" y1="124.40" x2="245.40" y2="124.40" stroke="#555" stroke-width="1.2"/>
<line x1="239.20" y1="151.60" x2="245.40" y2="151.60" stroke="#555" stroke-width="1.2"/>
<circle cx="239.2" cy="141.4" r="3.7" fill="#565656"/>
<line x1="297.50" y1="98.40" x2="297.50" y2="149.50" stroke="#555" stroke-width="1.2"/>
<line x1="297.50" y1="109.30" x2="303.70" y2="109.30" stroke="#555" stroke-width="1.2"/>
<line x1="297.50" y1="137.50" x2="303.70" y2="137.50" stroke="#555" stroke-width="1.2"/>
<circle cx="297.5" cy="123.5" r="3.7" fill="#565656"/>
<line x1="56.50" y1="36.00" x2="56.50" y2="275.80" stroke="#3c3c3c" stroke-width="1.2"/>
<line x1="55.90" y1="271.40" x2="349.10" y2="271.40" stroke="#3c3c3c" stroke-width="1.1"/>
<line x1="52.00" y1="264.50" x2="56.50" y2="264.50" stroke="#3c3c3c" stroke-width="1.1"/>
<line x1="54.30" y1="250.25" x2="56.50" y2="250.25" stroke="#3c3c3c" stroke-width="1.1"/>
<line x1="52.00" y1="236.00" x2="56.50" y2="236.00" stroke="#3c3c3c" stroke-width="1.1"/>
<line x1="54.30" y1="221.75" x2="56.50" y2="221.75" stroke="#3c3c3c" stroke-width="1.1"/>
<line x1="52.00" y1="207.50" x2="56.50" y2="207.50" stroke="#3c3c3c" stroke-width="1.1"/>
<line x1="54.30" y1="193.25" x2="56.50" y2="193.25" stroke="#3c3c3c" stroke-width="1.1"/>
<line x1="52.00" y1="179.00" x2="56.50" y2="179.00" stroke="#3c3c3c" stroke-width="1.1"/>
<line x1="54.30" y1="164.75" x2="56.50" y2="164.75" stroke="#3c3c3c" stroke-width="1.1"/>
<line x1="52.00" y1="150.50" x2="56.50" y2="150.50" stroke="#3c3c3c" stroke-width="1.1"/>
<line x1="54.30" y1="136.25" x2="56.50" y2="136.25" stroke="#3c3c3c" stroke-width="1.1"/>
<line x1="52.00" y1="122.00" x2="56.50" y2="122.00" stroke="#3c3c3c" stroke-width="1.1"/>
<line x1="54.30" y1="107.75" x2="56.50" y2="107.75" stroke="#3c3c3c" stroke-width="1.1"/>
<line x1="52.00" y1="93.50" x2="56.50" y2="93.50" stroke="#3c3c3c" stroke-width="1.1"/>
<line x1="54.30" y1="79.25" x2="56.50" y2="79.25" stroke="#3c3c3c" stroke-width="1.1"/>
<line x1="52.00" y1="65.00" x2="56.50" y2="65.00" stroke="#3c3c3c" stroke-width="1.1"/>
<line x1="54.30" y1="50.75" x2="56.50" y2="50.75" stroke="#3c3c3c" stroke-width="1.1"/>
<line x1="52.00" y1="36.50" x2="56.50" y2="36.50" stroke="#3c3c3c" stroke-width="1.1"/>
<line x1="115.60" y1="271.40" x2="115.60" y2="275.30" stroke="#3c3c3c" stroke-width="1.1"/>
<line x1="173.80" y1="271.40" x2="173.80" y2="275.30" stroke="#3c3c3c" stroke-width="1.1"/>
<line x1="232.40" y1="271.40" x2="232.40" y2="275.30" stroke="#3c3c3c" stroke-width="1.1"/>
<line x1="290.80" y1="271.40" x2="290.80" y2="275.30" stroke="#3c3c3c" stroke-width="1.1"/>
<line x1="348.60" y1="271.40" x2="348.60" y2="275.30" stroke="#3c3c3c" stroke-width="1.1"/>
<text x="36.83" y="268.40" font-size="13.30" fill="#111" textLength="11.82" lengthAdjust="spacingAndGlyphs">-2</text>
<text x="41.28" y="239.90" font-size="13.30" fill="#111" textLength="7.40" lengthAdjust="spacingAndGlyphs">0</text>
<text x="41.42" y="211.40" font-size="13.30" fill="#111" textLength="7.40" lengthAdjust="spacingAndGlyphs">2</text>
<text x="41.15" y="182.90" font-size="13.30" fill="#111" textLength="7.40" lengthAdjust="spacingAndGlyphs">4</text>
<text x="41.42" y="154.40" font-size="13.30" fill="#111" textLength="7.40" lengthAdjust="spacingAndGlyphs">6</text>
<text x="41.42" y="125.90" font-size="13.30" fill="#111" textLength="7.40" lengthAdjust="spacingAndGlyphs">8</text>
<text x="33.84" y="97.40" font-size="13.30" fill="#111" textLength="14.79" lengthAdjust="spacingAndGlyphs">10</text>
<text x="33.97" y="68.90" font-size="13.30" fill="#111" textLength="14.79" lengthAdjust="spacingAndGlyphs">12</text>
<text x="33.70" y="40.40" font-size="13.30" fill="#111" textLength="14.79" lengthAdjust="spacingAndGlyphs">14</text>
<text x="61.80" y="67.50" font-size="12.30" fill="#111" textLength="67.89" lengthAdjust="spacingAndGlyphs">Median:11.0</text>
<text x="159.77" y="60.00" font-size="12.30" fill="#111" textLength="24.69" lengthAdjust="spacingAndGlyphs">66.0</text>
<text x="218.68" y="56.80" font-size="12.30" fill="#111" textLength="24.06" lengthAdjust="spacingAndGlyphs">97.0</text>
<text x="273.37" y="53.10" font-size="12.30" fill="#111" textLength="31.36" lengthAdjust="spacingAndGlyphs">233.9</text>
<text x="119.84" y="40.30" font-size="11.30" font-style="italic" fill="#111" textLength="44.56" lengthAdjust="spacingAndGlyphs">p&lt;0.001</text>
<text x="178.25" y="26.00" font-size="11.30" font-style="italic" fill="#111" textLength="44.88" lengthAdjust="spacingAndGlyphs">p=0.103</text>
<text x="238.55" y="12.90" font-size="11.30" font-style="italic" fill="#111" textLength="44.87" lengthAdjust="spacingAndGlyphs">p=0.001</text>
<line x1="113.00" y1="44.30" x2="173.90" y2="44.30" stroke="#8a8a8a" stroke-width="1"/>
<line x1="172.30" y1="30.20" x2="233.60" y2="30.20" stroke="#8a8a8a" stroke-width="1"/>
<line x1="232.30" y1="16.50" x2="293.40" y2="16.50" stroke="#8a8a8a" stroke-width="1"/>
<line x1="256.80" y1="218.60" x2="256.80" y2="231.40" stroke="#777" stroke-width="1"/>
<line x1="252.90" y1="218.60" x2="261.00" y2="218.60" stroke="#777" stroke-width="1"/>
<line x1="252.90" y1="231.40" x2="261.00" y2="231.40" stroke="#777" stroke-width="1"/>
<circle cx="256.6" cy="240.6" r="3.8" fill="#565656"/>
<circle cx="257.1" cy="255.1" r="1.6" fill="#8a8a8a"/>
<text x="274.24" y="229.30" font-size="12.60" fill="#111" textLength="55.31" lengthAdjust="spacingAndGlyphs">10%~90%</text>
<text x="274.22" y="244.60" font-size="12.60" fill="#111" textLength="40.23" lengthAdjust="spacingAndGlyphs">Median</text>
<text x="274.27" y="259.30" font-size="12.60" fill="#111" textLength="24.54" lengthAdjust="spacingAndGlyphs">Data</text>
<text x="104.64" y="290.20" font-size="14.40" fill="#111" textLength="21.02" lengthAdjust="spacingAndGlyphs">1-5</text>
<text x="158.51" y="290.20" font-size="14.40" fill="#111" textLength="29.55" lengthAdjust="spacingAndGlyphs">5-10</text>
<text x="213.74" y="290.20" font-size="14.40" fill="#111" textLength="37.15" lengthAdjust="spacingAndGlyphs">10-15</text>
<text x="277.96" y="290.20" font-size="14.40" fill="#111" textLength="25.02" lengthAdjust="spacingAndGlyphs">&gt;15</text>
<text x="-1.07" y="307.30" font-size="14.40" fill="#111" textLength="97.97" lengthAdjust="spacingAndGlyphs">no. of ID50≥20:</text>
<text x="38.21" y="327.80" font-size="14.40" fill="#111" textLength="58.66" lengthAdjust="spacingAndGlyphs">Total no.:</text>
<text x="107.22" y="307.30" font-size="14.40" fill="#111" textLength="16.20" lengthAdjust="spacingAndGlyphs">55</text>
<text x="162.04" y="307.30" font-size="14.40" fill="#111" textLength="16.95" lengthAdjust="spacingAndGlyphs">60</text>
<text x="225.73" y="307.30" font-size="14.40" fill="#111" textLength="15.83" lengthAdjust="spacingAndGlyphs">50</text>
<text x="276.47" y="307.30" font-size="14.40" fill="#111" textLength="24.23" lengthAdjust="spacingAndGlyphs">233</text>
<text x="104.70" y="327.80" font-size="14.40" fill="#111" textLength="22.89" lengthAdjust="spacingAndGlyphs">174</text>
<text x="162.97" y="327.80" font-size="14.40" fill="#111" textLength="16.25" lengthAdjust="spacingAndGlyphs">78</text>
<text x="225.70" y="327.80" font-size="14.40" fill="#111" textLength="16.63" lengthAdjust="spacingAndGlyphs">56</text>
<text x="276.47" y="327.80" font-size="14.40" fill="#111" textLength="24.23" lengthAdjust="spacingAndGlyphs">236</text>
<text x="136.52" y="349.20" font-size="14.00" fill="#111" textLength="101.60" lengthAdjust="spacingAndGlyphs">TAb S/CO value</text>
<text transform="translate(18.80,250.66) rotate(-90)" x="0" y="0" font-size="13.70" fill="#111" textLength="164.67" lengthAdjust="spacingAndGlyphs">ppNAT antibobdy titer (log</text>
<text transform="translate(23.90,87.07) rotate(-90)" x="0" y="0" font-size="8.40" fill="#111" textLength="5.20" lengthAdjust="spacingAndGlyphs">2</text>
<text transform="translate(18.80,77.98) rotate(-90)" x="0" y="0" font-size="13.70" fill="#111" textLength="34.81" lengthAdjust="spacingAndGlyphs">ID50)</text>
<line x1="539.41" y1="26.90" x2="539.41" y2="283.20" stroke="#111" stroke-width="1" stroke-dasharray="2.2,2.2"/>
<line x1="423.60" y1="169.29" x2="680.15" y2="169.29" stroke="#111" stroke-width="1" stroke-dasharray="2.2,2.2"/>
<path d="M441.70,256.90 L447.48,251.92 L453.26,246.93 L459.05,241.94 L464.83,236.96 L470.61,231.97 L476.39,226.97 L482.18,221.98 L487.96,216.98 L493.74,211.98 L499.52,206.98 L505.31,201.97 L511.09,196.96 L516.87,191.94 L522.65,186.91 L528.44,181.87 L534.22,176.82 L540.00,171.75 L545.78,166.66 L551.57,161.55 L557.35,156.41 L563.13,151.24 L568.91,146.02 L574.70,140.76 L580.48,135.45 L586.26,130.10 L592.04,124.72 L597.83,119.31 L603.61,113.87 L609.39,108.41 L615.17,102.93 L620.96,97.44 L626.74,91.93 L632.52,86.41 L638.31,80.88 L644.09,75.35 L649.87,69.81 L655.65,64.26 L661.43,58.71 L667.22,53.16 L673.00,47.60 L673.00,58.20 L667.22,63.24 L661.43,68.28 L655.65,73.32 L649.87,78.37 L644.09,83.43 L638.31,88.49 L632.52,93.55 L626.74,98.63 L620.96,103.72 L615.17,108.82 L609.39,113.93 L603.61,119.07 L597.83,124.22 L592.04,129.41 L586.26,134.62 L580.48,139.87 L574.70,145.16 L568.91,150.49 L563.13,155.87 L557.35,161.29 L551.57,166.74 L545.78,172.23 L540.00,177.73 L534.22,183.26 L528.44,188.81 L522.65,194.36 L516.87,199.93 L511.09,205.50 L505.31,211.08 L499.52,216.67 L493.74,222.26 L487.96,227.86 L482.18,233.45 L476.39,239.06 L470.61,244.66 L464.83,250.26 L459.05,255.87 L453.26,261.48 L447.48,267.09 L441.70,272.70 Z" fill="#a3a3ab"/>
<line x1="441.70" y1="264.80" x2="673.00" y2="52.90" stroke="#0a0a0a" stroke-width="2"/>
<g fill="#fce1e4" stroke="#e23a3e" stroke-width="2.0"><circle cx="592.7" cy="123.0" r="3.6"/><circle cx="598.5" cy="125.3" r="3.6"/><circle cx="564.5" cy="119.0" r="3.6"/><circle cx="554.6" cy="144.0" r="3.6"/><circle cx="593.2" cy="99.4" r="3.6"/><circle cx="625.8" cy="109.6" r="3.6"/><circle cx="634.2" cy="108.5" r="3.6"/><circle cx="552.7" cy="128.9" r="3.6"/><circle cx="627.1" cy="98.7" r="3.6"/><circle cx="629.0" cy="90.9" r="3.6"/><circle cx="603.9" cy="113.6" r="3.6"/><circle cx="565.1" cy="137.5" r="3.6"/><circle cx="558.8" cy="130.1" r="3.6"/><circle cx="626.4" cy="103.6" r="3.6"/><circle cx="554.5" cy="124.9" r="3.6"/><circle cx="570.6" cy="126.5" r="3.6"/><circle cx="584.2" cy="114.1" r="3.6"/><circle cx="549.1" cy="156.9" r="3.6"/><circle cx="570.1" cy="135.2" r="3.6"/><circle cx="607.9" cy="100.6" r="3.6"/><circle cx="563.5" cy="136.5" r="3.6"/><circle cx="609.7" cy="99.5" r="3.6"/><circle cx="641.7" cy="93.1" r="3.6"/><circle cx="605.3" cy="87.1" r="3.6"/><circle cx="546.9" cy="152.5" r="3.6"/><circle cx="552.9" cy="121.9" r="3.6"/><circle cx="582.1" cy="133.6" r="3.6"/><circle cx="610.9" cy="108.1" r="3.6"/><circle cx="606.4" cy="127.1" r="3.6"/><circle cx="553.5" cy="129.7" r="3.6"/><circle cx="621.8" cy="108.6" r="3.6"/><circle cx="553.8" cy="139.0" r="3.6"/><circle cx="595.7" cy="95.3" r="3.6"/><circle cx="618.6" cy="117.8" r="3.6"/><circle cx="576.7" cy="133.0" r="3.6"/><circle cx="579.5" cy="131.9" r="3.6"/><circle cx="565.9" cy="112.2" r="3.6"/><circle cx="637.8" cy="108.3" r="3.6"/><circle cx="606.5" cy="102.6" r="3.6"/><circle cx="559.4" cy="117.7" r="3.6"/><circle cx="592.5" cy="99.1" r="3.6"/><circle cx="567.6" cy="110.8" r="3.6"/><circle cx="611.0" cy="117.5" r="3.6"/><circle cx="637.0" cy="79.5" r="3.6"/><circle cx="619.7" cy="123.9" r="3.6"/><circle cx="577.6" cy="142.5" r="3.6"/><circle cx="632.4" cy="95.9" r="3.6"/><circle cx="611.3" cy="113.5" r="3.6"/><circle cx="617.1" cy="92.7" r="3.6"/><circle cx="595.1" cy="91.0" r="3.6"/><circle cx="620.3" cy="91.0" r="3.6"/><circle cx="573.7" cy="105.0" r="3.6"/><circle cx="618.5" cy="119.7" r="3.6"/><circle cx="640.5" cy="83.3" r="3.6"/><circle cx="584.7" cy="123.8" r="3.6"/><circle cx="613.6" cy="93.2" r="3.6"/><circle cx="635.2" cy="105.3" r="3.6"/><circle cx="630.3" cy="81.4" r="3.6"/><circle cx="629.3" cy="90.5" r="3.6"/><circle cx="645.0" cy="83.2" r="3.6"/><circle cx="568.3" cy="120.2" r="3.6"/><circle cx="575.6" cy="137.2" r="3.6"/><circle cx="612.3" cy="119.9" r="3.6"/><circle cx="577.9" cy="108.0" r="3.6"/><circle cx="566.9" cy="147.5" r="3.6"/><circle cx="605.4" cy="92.9" r="3.6"/><circle cx="601.5" cy="118.3" r="3.6"/><circle cx="604.3" cy="117.2" r="3.6"/><circle cx="617.8" cy="81.5" r="3.6"/><circle cx="601.8" cy="110.8" r="3.6"/><circle cx="573.4" cy="115.7" r="3.6"/><circle cx="595.2" cy="102.6" r="3.6"/><circle cx="565.2" cy="127.9" r="3.6"/><circle cx="642.5" cy="86.9" r="3.6"/><circle cx="617.4" cy="103.1" r="3.6"/><circle cx="582.5" cy="128.1" r="3.6"/><circle cx="556.1" cy="137.4" r="3.6"/><circle cx="557.9" cy="118.9" r="3.6"/><circle cx="600.9" cy="112.7" r="3.6"/><circle cx="584.6" cy="110.7" r="3.6"/><circle cx="600.8" cy="89.4" r="3.6"/><circle cx="566.5" cy="129.0" r="3.6"/><circle cx="612.3" cy="120.5" r="3.6"/><circle cx="635.3" cy="95.5" r="3.6"/><circle cx="640.1" cy="102.5" r="3.6"/><circle cx="638.5" cy="87.3" r="3.6"/><circle cx="570.2" cy="137.0" r="3.6"/><circle cx="632.7" cy="111.4" r="3.6"/><circle cx="628.3" cy="86.6" r="3.6"/><circle cx="647.1" cy="85.7" r="3.6"/><circle cx="603.1" cy="119.2" r="3.6"/><circle cx="604.9" cy="88.3" r="3.6"/><circle cx="642.7" cy="84.0" r="3.6"/><circle cx="551.5" cy="155.9" r="3.6"/><circle cx="579.4" cy="115.2" r="3.6"/><circle cx="599.3" cy="112.1" r="3.6"/><circle cx="564.1" cy="114.1" r="3.6"/><circle cx="622.9" cy="110.0" r="3.6"/><circle cx="611.3" cy="110.0" r="3.6"/><circle cx="608.2" cy="118.4" r="3.6"/><circle cx="630.9" cy="110.1" r="3.6"/><circle cx="625.7" cy="110.1" r="3.6"/><circle cx="621.2" cy="81.9" r="3.6"/><circle cx="581.0" cy="115.4" r="3.6"/><circle cx="615.2" cy="104.4" r="3.6"/><circle cx="614.5" cy="123.8" r="3.6"/><circle cx="601.2" cy="108.7" r="3.6"/><circle cx="572.0" cy="109.7" r="3.6"/><circle cx="603.0" cy="118.7" r="3.6"/><circle cx="630.3" cy="82.4" r="3.6"/><circle cx="549.8" cy="154.1" r="3.6"/><circle cx="561.9" cy="115.6" r="3.6"/><circle cx="562.8" cy="117.6" r="3.6"/><circle cx="600.5" cy="126.2" r="3.6"/><circle cx="614.0" cy="123.1" r="3.6"/><circle cx="574.9" cy="136.2" r="3.6"/><circle cx="561.5" cy="139.4" r="3.6"/><circle cx="623.9" cy="80.2" r="3.6"/><circle cx="552.7" cy="152.1" r="3.6"/><circle cx="590.3" cy="116.1" r="3.6"/><circle cx="647.6" cy="96.5" r="3.6"/><circle cx="621.2" cy="115.3" r="3.6"/><circle cx="608.6" cy="85.7" r="3.6"/><circle cx="610.8" cy="114.3" r="3.6"/><circle cx="600.7" cy="86.4" r="3.6"/><circle cx="593.0" cy="98.0" r="3.6"/><circle cx="606.4" cy="111.2" r="3.6"/><circle cx="627.0" cy="120.6" r="3.6"/><circle cx="622.4" cy="96.0" r="3.6"/><circle cx="557.0" cy="151.0" r="3.6"/><circle cx="617.2" cy="123.5" r="3.6"/><circle cx="624.4" cy="91.9" r="3.6"/><circle cx="573.6" cy="111.7" r="3.6"/><circle cx="610.7" cy="84.6" r="3.6"/><circle cx="554.1" cy="132.8" r="3.6"/><circle cx="584.3" cy="116.2" r="3.6"/><circle cx="626.0" cy="93.9" r="3.6"/><circle cx="589.7" cy="97.7" r="3.6"/><circle cx="630.4" cy="107.0" r="3.6"/><circle cx="579.3" cy="122.1" r="3.6"/><circle cx="590.1" cy="107.0" r="3.6"/><circle cx="555.2" cy="149.5" r="3.6"/><circle cx="604.5" cy="116.7" r="3.6"/><circle cx="617.2" cy="101.1" r="3.6"/><circle cx="626.7" cy="82.4" r="3.6"/><circle cx="567.5" cy="131.6" r="3.6"/><circle cx="582.7" cy="137.0" r="3.6"/><circle cx="619.8" cy="123.8" r="3.6"/><circle cx="629.6" cy="101.6" r="3.6"/><circle cx="578.5" cy="109.6" r="3.6"/><circle cx="571.2" cy="106.4" r="3.6"/><circle cx="583.5" cy="106.5" r="3.6"/><circle cx="586.7" cy="108.6" r="3.6"/><circle cx="565.5" cy="123.4" r="3.6"/><circle cx="563.6" cy="139.8" r="3.6"/><circle cx="637.8" cy="99.6" r="3.6"/><circle cx="602.4" cy="123.7" r="3.6"/><circle cx="629.8" cy="81.4" r="3.6"/><circle cx="553.9" cy="129.3" r="3.6"/><circle cx="560.2" cy="138.6" r="3.6"/><circle cx="613.4" cy="96.6" r="3.6"/><circle cx="568.2" cy="140.3" r="3.6"/><circle cx="586.6" cy="104.4" r="3.6"/><circle cx="597.0" cy="121.1" r="3.6"/><circle cx="641.4" cy="110.5" r="3.6"/><circle cx="629.6" cy="111.4" r="3.6"/><circle cx="566.5" cy="111.7" r="3.6"/><circle cx="557.1" cy="130.4" r="3.6"/><circle cx="626.8" cy="91.1" r="3.6"/><circle cx="569.8" cy="136.2" r="3.6"/><circle cx="607.7" cy="94.8" r="3.6"/><circle cx="563.2" cy="139.6" r="3.6"/><circle cx="577.9" cy="122.1" r="3.6"/><circle cx="631.1" cy="116.3" r="3.6"/><circle cx="641.4" cy="104.7" r="3.6"/><circle cx="595.9" cy="94.6" r="3.6"/><circle cx="550.2" cy="155.6" r="3.6"/><circle cx="629.5" cy="108.3" r="3.6"/><circle cx="600.6" cy="119.3" r="3.6"/><circle cx="614.3" cy="96.0" r="3.6"/><circle cx="573.1" cy="120.9" r="3.6"/><circle cx="560.9" cy="140.7" r="3.6"/><circle cx="620.5" cy="84.2" r="3.6"/><circle cx="595.6" cy="115.4" r="3.6"/><circle cx="635.4" cy="101.5" r="3.6"/><circle cx="628.2" cy="111.0" r="3.6"/><circle cx="641.6" cy="83.6" r="3.6"/><circle cx="632.1" cy="93.5" r="3.6"/><circle cx="602.3" cy="120.2" r="3.6"/><circle cx="561.6" cy="145.9" r="3.6"/><circle cx="582.9" cy="133.7" r="3.6"/><circle cx="619.8" cy="95.9" r="3.6"/><circle cx="522.9" cy="198.1" r="3.6"/><circle cx="530.0" cy="189.8" r="3.6"/><circle cx="524.5" cy="192.6" r="3.6"/><circle cx="517.3" cy="200.8" r="3.6"/><circle cx="514.9" cy="194.1" r="3.6"/><circle cx="517.8" cy="205.0" r="3.6"/><circle cx="513.7" cy="189.6" r="3.6"/><circle cx="527.9" cy="193.9" r="3.6"/><circle cx="534.4" cy="201.6" r="3.6"/><circle cx="527.7" cy="193.9" r="3.6"/><circle cx="530.8" cy="186.0" r="3.6"/><circle cx="526.3" cy="206.4" r="3.6"/><circle cx="511.4" cy="196.3" r="3.6"/><circle cx="531.1" cy="202.6" r="3.6"/><circle cx="518.2" cy="185.4" r="3.6"/><circle cx="533.6" cy="197.1" r="3.6"/><circle cx="521.3" cy="204.4" r="3.6"/><circle cx="529.0" cy="210.1" r="3.6"/><circle cx="662.6" cy="50.1" r="3.6"/><circle cx="673.3" cy="63.2" r="3.6"/><circle cx="665.7" cy="68.9" r="3.6"/><circle cx="669.2" cy="76.0" r="3.6"/><circle cx="672.4" cy="82.6" r="3.6"/><circle cx="661.6" cy="89.3" r="3.6"/><circle cx="655.5" cy="97.5" r="3.6"/><circle cx="655.5" cy="111.8" r="3.6"/><circle cx="647.3" cy="120.0" r="3.6"/><circle cx="655.5" cy="125.7" r="3.6"/><circle cx="650.0" cy="131.2" r="3.6"/><circle cx="641.8" cy="142.5" r="3.6"/><circle cx="636.7" cy="128.2" r="3.6"/><circle cx="621.3" cy="138.4" r="3.6"/><circle cx="627.9" cy="139.0" r="3.6"/><circle cx="621.3" cy="148.2" r="3.6"/><circle cx="589.0" cy="153.7" r="3.6"/><circle cx="588.6" cy="160.9" r="3.6"/><circle cx="596.2" cy="139.4" r="3.6"/><circle cx="594.2" cy="136.3" r="3.6"/><circle cx="630.5" cy="59.3" r="3.6"/><circle cx="637.7" cy="61.3" r="3.6"/><circle cx="647.3" cy="63.4" r="3.6"/><circle cx="622.8" cy="63.8" r="3.6"/><circle cx="617.3" cy="69.3" r="3.6"/><circle cx="627.5" cy="68.9" r="3.6"/><circle cx="650.4" cy="72.4" r="3.6"/><circle cx="645.9" cy="77.7" r="3.6"/><circle cx="633.6" cy="74.0" r="3.6"/><circle cx="635.0" cy="78.1" r="3.6"/><circle cx="590.7" cy="79.7" r="3.6"/><circle cx="583.9" cy="84.6" r="3.6"/><circle cx="584.6" cy="90.4" r="3.6"/><circle cx="541.1" cy="112.3" r="3.6"/><circle cx="469.0" cy="143.3" r="3.6"/><circle cx="498.2" cy="153.5" r="3.6"/><circle cx="498.2" cy="159.3" r="3.6"/><circle cx="481.9" cy="168.1" r="3.6"/><circle cx="481.9" cy="172.6" r="3.6"/><circle cx="516.6" cy="137.8" r="3.6"/><circle cx="523.6" cy="139.9" r="3.6"/><circle cx="527.6" cy="131.3" r="3.6"/><circle cx="535.8" cy="139.9" r="3.6"/><circle cx="535.0" cy="144.6" r="3.6"/><circle cx="539.9" cy="144.6" r="3.6"/><circle cx="524.8" cy="152.7" r="3.6"/><circle cx="528.9" cy="154.2" r="3.6"/><circle cx="529.3" cy="161.3" r="3.6"/><circle cx="521.5" cy="170.5" r="3.6"/><circle cx="527.6" cy="170.5" r="3.6"/><circle cx="531.3" cy="168.5" r="3.6"/><circle cx="519.5" cy="178.3" r="3.6"/><circle cx="541.5" cy="168.5" r="3.6"/><circle cx="546.6" cy="162.3" r="3.6"/><circle cx="540.1" cy="177.3" r="3.6"/><circle cx="547.1" cy="175.2" r="3.6"/><circle cx="557.5" cy="171.9" r="3.6"/><circle cx="560.3" cy="182.8" r="3.6"/><circle cx="541.5" cy="187.5" r="3.6"/><circle cx="529.3" cy="185.4" r="3.6"/><circle cx="529.3" cy="189.9" r="3.6"/><circle cx="523.1" cy="188.9" r="3.6"/><circle cx="521.1" cy="193.0" r="3.6"/><circle cx="518.0" cy="194.0" r="3.6"/><circle cx="457.3" cy="192.0" r="3.6"/><circle cx="441.8" cy="198.4" r="3.6"/><circle cx="441.8" cy="204.1" r="3.6"/><circle cx="441.8" cy="213.7" r="3.6"/><circle cx="441.8" cy="216.4" r="3.6"/><circle cx="441.8" cy="227.0" r="3.6"/><circle cx="441.8" cy="235.2" r="3.6"/><circle cx="441.8" cy="240.9" r="3.6"/><circle cx="457.3" cy="220.9" r="3.6"/><circle cx="457.3" cy="235.2" r="3.6"/><circle cx="469.0" cy="235.2" r="3.6"/><circle cx="469.0" cy="240.9" r="3.6"/><circle cx="475.7" cy="230.1" r="3.6"/><circle cx="478.6" cy="240.9" r="3.6"/><circle cx="481.9" cy="215.8" r="3.6"/><circle cx="481.2" cy="218.8" r="3.6"/><circle cx="483.3" cy="223.9" r="3.6"/><circle cx="485.3" cy="230.7" r="3.6"/><circle cx="485.3" cy="240.9" r="3.6"/><circle cx="489.4" cy="240.9" r="3.6"/><circle cx="493.5" cy="240.9" r="3.6"/><circle cx="492.1" cy="214.7" r="3.6"/><circle cx="498.6" cy="235.2" r="3.6"/><circle cx="503.1" cy="235.2" r="3.6"/><circle cx="502.7" cy="204.5" r="3.6"/><circle cx="502.7" cy="220.9" r="3.6"/><circle cx="510.5" cy="198.4" r="3.6"/><circle cx="510.5" cy="202.5" r="3.6"/><circle cx="510.5" cy="211.7" r="3.6"/><circle cx="510.5" cy="220.9" r="3.6"/><circle cx="510.5" cy="230.1" r="3.6"/><circle cx="510.5" cy="240.9" r="3.6"/><circle cx="538.5" cy="240.9" r="3.6"/><circle cx="546.6" cy="240.9" r="3.6"/><circle cx="553.8" cy="235.2" r="3.6"/><circle cx="535.4" cy="204.5" r="3.6"/><circle cx="533.4" cy="230.1" r="3.6"/><circle cx="548.7" cy="202.9" r="3.6"/><circle cx="560.3" cy="211.1" r="3.6"/><circle cx="520.9" cy="203.1" r="3.6"/><circle cx="520.9" cy="199.8" r="3.6"/><circle cx="527.9" cy="206.8" r="3.6"/><circle cx="518.2" cy="213.3" r="3.6"/><circle cx="526.8" cy="213.3" r="3.6"/><circle cx="532.7" cy="211.1" r="3.6"/><circle cx="516.1" cy="218.6" r="3.6"/><circle cx="523.1" cy="218.1" r="3.6"/><circle cx="520.4" cy="224.0" r="3.6"/><circle cx="526.8" cy="227.2" r="3.6"/><circle cx="513.4" cy="227.2" r="3.6"/><circle cx="517.2" cy="235.3" r="3.6"/><circle cx="524.7" cy="235.8" r="3.6"/><circle cx="518.2" cy="241.7" r="3.6"/><circle cx="526.8" cy="241.7" r="3.6"/><circle cx="531.1" cy="241.7" r="3.6"/><circle cx="516.1" cy="249.7" r="3.6"/><circle cx="519.5" cy="249.7" r="3.6"/><circle cx="522.0" cy="249.7" r="3.6"/><circle cx="525.8" cy="249.7" r="3.6"/><circle cx="596.9" cy="169.1" r="3.6"/><circle cx="565.6" cy="223.9" r="3.6"/><circle cx="581.5" cy="223.9" r="3.6"/><circle cx="615.3" cy="221.5" r="3.6"/><circle cx="565.6" cy="235.6" r="3.6"/><circle cx="553.3" cy="159.4" r="3.6"/><circle cx="545.4" cy="132.5" r="3.6"/><circle cx="550.5" cy="121.6" r="3.6"/><circle cx="558.3" cy="122.2" r="3.6"/><circle cx="551.8" cy="131.9" r="3.6"/><circle cx="553.1" cy="136.4" r="3.6"/><circle cx="548.0" cy="144.1" r="3.6"/><circle cx="547.3" cy="150.5" r="3.6"/><circle cx="552.5" cy="153.1" r="3.6"/><circle cx="556.3" cy="148.6" r="3.6"/><circle cx="563.4" cy="151.2" r="3.6"/><circle cx="517.7" cy="189.8" r="3.6"/></g>
<rect x="423.60" y="26.90" width="256.55" height="256.30" fill="none" stroke="#111" stroke-width="1.9"/>
<line x1="418.00" y1="283.20" x2="423.60" y2="283.20" stroke="#111" stroke-width="1.9"/>
<line x1="418.00" y1="254.72" x2="423.60" y2="254.72" stroke="#111" stroke-width="1.9"/>
<line x1="418.00" y1="226.24" x2="423.60" y2="226.24" stroke="#111" stroke-width="1.9"/>
<line x1="418.00" y1="197.77" x2="423.60" y2="197.77" stroke="#111" stroke-width="1.9"/>
<line x1="418.00" y1="169.29" x2="423.60" y2="169.29" stroke="#111" stroke-width="1.9"/>
<line x1="418.00" y1="140.81" x2="423.60" y2="140.81" stroke="#111" stroke-width="1.9"/>
<line x1="418.00" y1="112.33" x2="423.60" y2="112.33" stroke="#111" stroke-width="1.9"/>
<line x1="418.00" y1="83.86" x2="423.60" y2="83.86" stroke="#111" stroke-width="1.9"/>
<line x1="418.00" y1="55.38" x2="423.60" y2="55.38" stroke="#111" stroke-width="1.9"/>
<line x1="418.00" y1="26.90" x2="423.60" y2="26.90" stroke="#111" stroke-width="1.9"/>
<line x1="423.60" y1="283.20" x2="423.60" y2="288.80" stroke="#111" stroke-width="1.9"/>
<line x1="460.25" y1="283.20" x2="460.25" y2="288.80" stroke="#111" stroke-width="1.9"/>
<line x1="496.90" y1="283.20" x2="496.90" y2="288.80" stroke="#111" stroke-width="1.9"/>
<line x1="533.55" y1="283.20" x2="533.55" y2="288.80" stroke="#111" stroke-width="1.9"/>
<line x1="570.20" y1="283.20" x2="570.20" y2="288.80" stroke="#111" stroke-width="1.9"/>
<line x1="606.85" y1="283.20" x2="606.85" y2="288.80" stroke="#111" stroke-width="1.9"/>
<line x1="643.50" y1="283.20" x2="643.50" y2="288.80" stroke="#111" stroke-width="1.9"/>
<line x1="680.15" y1="283.20" x2="680.15" y2="288.80" stroke="#111" stroke-width="1.9"/>
<text x="400.54" y="289.20" font-size="14.00" fill="#111" textLength="12.45" lengthAdjust="spacingAndGlyphs">-8</text>
<text x="400.54" y="260.72" font-size="14.00" fill="#111" textLength="12.45" lengthAdjust="spacingAndGlyphs">-6</text>
<text x="400.26" y="232.24" font-size="14.00" fill="#111" textLength="12.45" lengthAdjust="spacingAndGlyphs">-4</text>
<text x="400.54" y="203.77" font-size="14.00" fill="#111" textLength="12.45" lengthAdjust="spacingAndGlyphs">-2</text>
<text x="406.72" y="175.29" font-size="14.00" fill="#111" textLength="7.79" lengthAdjust="spacingAndGlyphs">0</text>
<text x="406.86" y="146.81" font-size="14.00" fill="#111" textLength="7.79" lengthAdjust="spacingAndGlyphs">2</text>
<text x="406.58" y="118.33" font-size="14.00" fill="#111" textLength="7.79" lengthAdjust="spacingAndGlyphs">4</text>
<text x="406.86" y="89.86" font-size="14.00" fill="#111" textLength="7.79" lengthAdjust="spacingAndGlyphs">6</text>
<text x="406.86" y="61.38" font-size="14.00" fill="#111" textLength="7.79" lengthAdjust="spacingAndGlyphs">8</text>
<text x="398.88" y="32.90" font-size="14.00" fill="#111" textLength="15.57" lengthAdjust="spacingAndGlyphs">10</text>
<text x="415.30" y="308.00" font-size="14.00" fill="#111" textLength="12.45" lengthAdjust="spacingAndGlyphs">-2</text>
<text x="455.33" y="308.00" font-size="14.00" fill="#111" textLength="7.79" lengthAdjust="spacingAndGlyphs">0</text>
<text x="491.82" y="308.00" font-size="14.00" fill="#111" textLength="7.79" lengthAdjust="spacingAndGlyphs">2</text>
<text x="528.38" y="308.00" font-size="14.00" fill="#111" textLength="7.79" lengthAdjust="spacingAndGlyphs">4</text>
<text x="564.80" y="308.00" font-size="14.00" fill="#111" textLength="7.79" lengthAdjust="spacingAndGlyphs">6</text>
<text x="601.36" y="308.00" font-size="14.00" fill="#111" textLength="7.79" lengthAdjust="spacingAndGlyphs">8</text>
<text x="633.58" y="308.00" font-size="14.00" fill="#111" textLength="15.57" lengthAdjust="spacingAndGlyphs">10</text>
<text x="670.14" y="308.00" font-size="14.00" fill="#111" textLength="15.57" lengthAdjust="spacingAndGlyphs">12</text>
<text x="481.54" y="328.40" font-size="14.10" fill="#111" textLength="99.16" lengthAdjust="spacingAndGlyphs">ppNAT titer (log</text>
<text x="580.59" y="333.00" font-size="8.00" fill="#111" textLength="4.59" lengthAdjust="spacingAndGlyphs">2</text>
<text x="588.91" y="328.40" font-size="14.10" fill="#111" textLength="35.02" lengthAdjust="spacingAndGlyphs">ID50)</text>
<text transform="translate(387.00,228.98) rotate(-90)" x="0" y="0" font-size="14.10" fill="#111" textLength="112.61" lengthAdjust="spacingAndGlyphs">IgG-RBD titer (log</text>
<text transform="translate(392.00,117.30) rotate(-90)" x="0" y="0" font-size="8.20" fill="#111" textLength="5.56" lengthAdjust="spacingAndGlyphs">2</text>
<text transform="translate(387.00,108.62) rotate(-90)" x="0" y="0" font-size="14.10" fill="#111" textLength="40.21" lengthAdjust="spacingAndGlyphs">S/CO)</text>
<text x="435.81" y="61.00" font-size="13.60" fill="#111" textLength="48.51" lengthAdjust="spacingAndGlyphs">r=0.844</text>
<text x="436.88" y="80.10" font-size="13.20" font-style="italic" fill="#111" textLength="74.79" lengthAdjust="spacingAndGlyphs">p&lt;0.000001</text>
<line x1="187.42" y1="394.00" x2="187.42" y2="650.85" stroke="#111" stroke-width="1" stroke-dasharray="2.2,2.2"/>
<line x1="71.40" y1="536.69" x2="328.40" y2="536.69" stroke="#111" stroke-width="1" stroke-dasharray="2.2,2.2"/>
<path d="M89.90,618.45 L95.68,614.88 L101.46,611.31 L107.24,607.74 L113.02,604.17 L118.80,600.60 L124.58,597.02 L130.36,593.44 L136.14,589.86 L141.92,586.28 L147.70,582.69 L153.48,579.10 L159.26,575.50 L165.04,571.89 L170.82,568.28 L176.60,564.66 L182.38,561.02 L188.16,557.37 L193.94,553.70 L199.72,550.01 L205.50,546.29 L211.28,542.54 L217.06,538.75 L222.84,534.92 L228.62,531.04 L234.40,527.12 L240.18,523.15 L245.96,519.14 L251.74,515.10 L257.52,511.04 L263.30,506.95 L269.08,502.84 L274.86,498.72 L280.64,494.59 L286.42,490.45 L292.20,486.30 L297.98,482.15 L303.76,477.99 L309.54,473.83 L315.32,469.67 L321.10,465.50 L321.10,477.50 L315.32,481.05 L309.54,484.61 L303.76,488.17 L297.98,491.73 L292.20,495.30 L286.42,498.87 L280.64,502.45 L274.86,506.04 L269.08,509.64 L263.30,513.25 L257.52,516.88 L251.74,520.54 L245.96,524.22 L240.18,527.93 L234.40,531.68 L228.62,535.48 L222.84,539.32 L217.06,543.21 L211.28,547.14 L205.50,551.11 L199.72,555.11 L193.94,559.14 L188.16,563.19 L182.38,567.26 L176.60,571.34 L170.82,575.44 L165.04,579.55 L159.26,583.66 L153.48,587.78 L147.70,591.91 L141.92,596.04 L136.14,600.18 L130.36,604.32 L124.58,608.46 L118.80,612.60 L113.02,616.75 L107.24,620.90 L101.46,625.05 L95.68,629.20 L89.90,633.35 Z" fill="#a3a3ab"/>
<line x1="89.90" y1="625.90" x2="321.10" y2="471.50" stroke="#0a0a0a" stroke-width="2"/>
<g fill="#c5c5ef" stroke="#3d4fb4" stroke-width="1.9"><circle cx="235.7" cy="506.8" r="3.7"/><circle cx="237.2" cy="534.5" r="3.7"/><circle cx="264.6" cy="527.6" r="3.7"/><circle cx="231.1" cy="530.8" r="3.7"/><circle cx="206.2" cy="510.3" r="3.7"/><circle cx="248.7" cy="541.1" r="3.7"/><circle cx="282.0" cy="527.8" r="3.7"/><circle cx="211.7" cy="539.5" r="3.7"/><circle cx="232.2" cy="519.5" r="3.7"/><circle cx="209.9" cy="535.5" r="3.7"/><circle cx="261.1" cy="496.8" r="3.7"/><circle cx="203.8" cy="500.3" r="3.7"/><circle cx="255.8" cy="534.3" r="3.7"/><circle cx="233.1" cy="516.7" r="3.7"/><circle cx="208.1" cy="555.0" r="3.7"/><circle cx="209.3" cy="549.8" r="3.7"/><circle cx="252.3" cy="524.0" r="3.7"/><circle cx="254.1" cy="501.8" r="3.7"/><circle cx="281.2" cy="527.1" r="3.7"/><circle cx="207.9" cy="543.8" r="3.7"/><circle cx="225.4" cy="549.3" r="3.7"/><circle cx="220.4" cy="525.0" r="3.7"/><circle cx="282.6" cy="495.8" r="3.7"/><circle cx="252.7" cy="487.6" r="3.7"/><circle cx="264.4" cy="505.0" r="3.7"/><circle cx="265.7" cy="537.3" r="3.7"/><circle cx="235.2" cy="526.4" r="3.7"/><circle cx="216.0" cy="517.0" r="3.7"/><circle cx="210.1" cy="510.9" r="3.7"/><circle cx="255.0" cy="494.9" r="3.7"/><circle cx="249.8" cy="501.7" r="3.7"/><circle cx="254.9" cy="506.8" r="3.7"/><circle cx="262.6" cy="484.7" r="3.7"/><circle cx="265.7" cy="492.8" r="3.7"/><circle cx="244.5" cy="512.8" r="3.7"/><circle cx="260.7" cy="533.7" r="3.7"/><circle cx="274.9" cy="538.4" r="3.7"/><circle cx="238.1" cy="514.5" r="3.7"/><circle cx="250.4" cy="521.3" r="3.7"/><circle cx="240.6" cy="549.8" r="3.7"/><circle cx="272.2" cy="526.8" r="3.7"/><circle cx="274.2" cy="504.8" r="3.7"/><circle cx="257.5" cy="487.1" r="3.7"/><circle cx="208.1" cy="515.5" r="3.7"/><circle cx="248.0" cy="511.7" r="3.7"/><circle cx="200.5" cy="534.1" r="3.7"/><circle cx="250.5" cy="499.9" r="3.7"/><circle cx="227.3" cy="511.6" r="3.7"/><circle cx="239.4" cy="542.4" r="3.7"/><circle cx="218.4" cy="538.0" r="3.7"/><circle cx="205.4" cy="541.4" r="3.7"/><circle cx="208.0" cy="522.3" r="3.7"/><circle cx="220.7" cy="504.4" r="3.7"/><circle cx="236.9" cy="508.7" r="3.7"/><circle cx="256.7" cy="485.3" r="3.7"/><circle cx="198.3" cy="549.4" r="3.7"/><circle cx="227.4" cy="519.3" r="3.7"/><circle cx="244.8" cy="497.4" r="3.7"/><circle cx="226.1" cy="551.2" r="3.7"/><circle cx="289.5" cy="496.6" r="3.7"/><circle cx="283.3" cy="508.5" r="3.7"/><circle cx="244.8" cy="494.8" r="3.7"/><circle cx="216.3" cy="529.4" r="3.7"/><circle cx="215.2" cy="548.0" r="3.7"/><circle cx="271.5" cy="505.4" r="3.7"/><circle cx="270.2" cy="492.0" r="3.7"/><circle cx="241.9" cy="487.8" r="3.7"/><circle cx="218.5" cy="505.0" r="3.7"/><circle cx="269.9" cy="496.7" r="3.7"/><circle cx="214.1" cy="499.6" r="3.7"/><circle cx="265.0" cy="541.3" r="3.7"/><circle cx="234.3" cy="531.6" r="3.7"/><circle cx="219.1" cy="504.5" r="3.7"/><circle cx="224.2" cy="530.0" r="3.7"/><circle cx="204.5" cy="555.7" r="3.7"/><circle cx="241.4" cy="521.6" r="3.7"/><circle cx="250.9" cy="485.3" r="3.7"/><circle cx="258.2" cy="503.3" r="3.7"/><circle cx="221.4" cy="542.2" r="3.7"/><circle cx="204.2" cy="503.3" r="3.7"/><circle cx="274.6" cy="500.4" r="3.7"/><circle cx="224.4" cy="523.1" r="3.7"/><circle cx="214.6" cy="549.3" r="3.7"/><circle cx="243.7" cy="538.3" r="3.7"/><circle cx="247.7" cy="495.4" r="3.7"/><circle cx="253.6" cy="530.3" r="3.7"/><circle cx="232.9" cy="531.3" r="3.7"/><circle cx="277.5" cy="520.7" r="3.7"/><circle cx="248.3" cy="545.4" r="3.7"/><circle cx="267.1" cy="521.0" r="3.7"/><circle cx="295.3" cy="495.0" r="3.7"/><circle cx="277.2" cy="494.3" r="3.7"/><circle cx="259.1" cy="499.6" r="3.7"/><circle cx="241.4" cy="540.0" r="3.7"/><circle cx="219.9" cy="518.6" r="3.7"/><circle cx="218.3" cy="525.5" r="3.7"/><circle cx="257.9" cy="535.6" r="3.7"/><circle cx="255.4" cy="547.5" r="3.7"/><circle cx="214.0" cy="493.3" r="3.7"/><circle cx="240.8" cy="515.1" r="3.7"/><circle cx="222.7" cy="541.9" r="3.7"/><circle cx="202.6" cy="550.0" r="3.7"/><circle cx="255.0" cy="522.7" r="3.7"/><circle cx="278.4" cy="499.8" r="3.7"/><circle cx="210.4" cy="505.3" r="3.7"/><circle cx="199.5" cy="505.5" r="3.7"/><circle cx="260.5" cy="521.4" r="3.7"/><circle cx="222.9" cy="526.1" r="3.7"/><circle cx="204.3" cy="543.5" r="3.7"/><circle cx="213.1" cy="501.0" r="3.7"/><circle cx="211.8" cy="533.8" r="3.7"/><circle cx="201.4" cy="512.7" r="3.7"/><circle cx="233.4" cy="498.1" r="3.7"/><circle cx="246.6" cy="539.1" r="3.7"/><circle cx="243.0" cy="537.8" r="3.7"/><circle cx="288.8" cy="492.5" r="3.7"/><circle cx="236.4" cy="504.3" r="3.7"/><circle cx="239.7" cy="487.6" r="3.7"/><circle cx="275.4" cy="537.0" r="3.7"/><circle cx="219.2" cy="500.9" r="3.7"/><circle cx="253.2" cy="500.1" r="3.7"/><circle cx="233.4" cy="507.2" r="3.7"/><circle cx="199.2" cy="512.2" r="3.7"/><circle cx="263.5" cy="486.3" r="3.7"/><circle cx="231.2" cy="534.1" r="3.7"/><circle cx="236.4" cy="545.2" r="3.7"/><circle cx="235.2" cy="540.6" r="3.7"/><circle cx="217.7" cy="508.0" r="3.7"/><circle cx="214.4" cy="523.2" r="3.7"/><circle cx="212.3" cy="497.2" r="3.7"/><circle cx="217.6" cy="517.0" r="3.7"/><circle cx="227.5" cy="515.5" r="3.7"/><circle cx="285.9" cy="497.3" r="3.7"/><circle cx="267.9" cy="509.1" r="3.7"/><circle cx="214.2" cy="501.6" r="3.7"/><circle cx="270.4" cy="502.1" r="3.7"/><circle cx="233.1" cy="493.4" r="3.7"/><circle cx="293.7" cy="508.9" r="3.7"/><circle cx="275.7" cy="536.2" r="3.7"/><circle cx="228.9" cy="510.8" r="3.7"/><circle cx="203.8" cy="548.2" r="3.7"/><circle cx="229.3" cy="539.8" r="3.7"/><circle cx="249.7" cy="486.0" r="3.7"/><circle cx="236.5" cy="499.8" r="3.7"/><circle cx="257.8" cy="484.3" r="3.7"/><circle cx="227.9" cy="513.7" r="3.7"/><circle cx="252.3" cy="492.1" r="3.7"/><circle cx="269.5" cy="501.5" r="3.7"/><circle cx="271.5" cy="531.9" r="3.7"/><circle cx="210.5" cy="497.3" r="3.7"/><circle cx="224.5" cy="535.4" r="3.7"/><circle cx="237.7" cy="510.9" r="3.7"/><circle cx="286.3" cy="498.9" r="3.7"/><circle cx="225.8" cy="507.8" r="3.7"/><circle cx="197.6" cy="529.2" r="3.7"/><circle cx="254.6" cy="542.6" r="3.7"/><circle cx="297.8" cy="504.3" r="3.7"/><circle cx="217.8" cy="533.7" r="3.7"/><circle cx="286.5" cy="499.5" r="3.7"/><circle cx="261.7" cy="488.7" r="3.7"/><circle cx="240.1" cy="511.4" r="3.7"/><circle cx="201.3" cy="510.7" r="3.7"/><circle cx="229.6" cy="519.2" r="3.7"/><circle cx="224.5" cy="493.8" r="3.7"/><circle cx="237.4" cy="517.6" r="3.7"/><circle cx="212.6" cy="531.9" r="3.7"/><circle cx="231.0" cy="513.6" r="3.7"/><circle cx="210.9" cy="525.7" r="3.7"/><circle cx="268.9" cy="523.4" r="3.7"/><circle cx="236.3" cy="509.3" r="3.7"/><circle cx="201.6" cy="512.3" r="3.7"/><circle cx="200.8" cy="519.1" r="3.7"/><circle cx="256.8" cy="517.1" r="3.7"/><circle cx="229.3" cy="500.9" r="3.7"/><circle cx="222.6" cy="532.1" r="3.7"/><circle cx="214.6" cy="517.1" r="3.7"/><circle cx="233.2" cy="525.2" r="3.7"/><circle cx="261.1" cy="528.5" r="3.7"/><circle cx="238.3" cy="513.1" r="3.7"/><circle cx="224.1" cy="544.2" r="3.7"/><circle cx="287.7" cy="510.6" r="3.7"/><circle cx="209.3" cy="520.0" r="3.7"/><circle cx="227.5" cy="509.0" r="3.7"/><circle cx="215.3" cy="499.1" r="3.7"/><circle cx="266.7" cy="499.5" r="3.7"/><circle cx="236.5" cy="499.9" r="3.7"/><circle cx="247.0" cy="530.7" r="3.7"/><circle cx="252.8" cy="528.8" r="3.7"/><circle cx="254.1" cy="544.3" r="3.7"/><circle cx="231.5" cy="548.5" r="3.7"/><circle cx="228.0" cy="535.7" r="3.7"/><circle cx="268.3" cy="533.5" r="3.7"/><circle cx="211.8" cy="528.6" r="3.7"/><circle cx="246.7" cy="524.2" r="3.7"/><circle cx="233.9" cy="503.4" r="3.7"/><circle cx="273.9" cy="522.0" r="3.7"/><circle cx="220.0" cy="500.6" r="3.7"/><circle cx="229.3" cy="495.3" r="3.7"/><circle cx="249.1" cy="491.4" r="3.7"/><circle cx="205.8" cy="534.8" r="3.7"/><circle cx="206.9" cy="515.8" r="3.7"/><circle cx="276.4" cy="518.0" r="3.7"/><circle cx="212.1" cy="547.0" r="3.7"/><circle cx="221.8" cy="520.0" r="3.7"/><circle cx="278.9" cy="511.4" r="3.7"/><circle cx="270.5" cy="500.8" r="3.7"/><circle cx="270.4" cy="506.4" r="3.7"/><circle cx="230.2" cy="538.9" r="3.7"/><circle cx="254.8" cy="513.5" r="3.7"/><circle cx="269.5" cy="528.7" r="3.7"/><circle cx="208.2" cy="510.2" r="3.7"/><circle cx="265.6" cy="499.3" r="3.7"/><circle cx="267.5" cy="513.4" r="3.7"/><circle cx="261.6" cy="511.7" r="3.7"/><circle cx="200.1" cy="535.5" r="3.7"/><circle cx="225.1" cy="536.8" r="3.7"/><circle cx="252.2" cy="518.2" r="3.7"/><circle cx="234.4" cy="505.1" r="3.7"/><circle cx="224.9" cy="511.3" r="3.7"/><circle cx="260.1" cy="539.4" r="3.7"/><circle cx="268.2" cy="522.9" r="3.7"/><circle cx="279.3" cy="492.9" r="3.7"/><circle cx="293.4" cy="500.8" r="3.7"/><circle cx="246.5" cy="490.9" r="3.7"/><circle cx="254.6" cy="492.7" r="3.7"/><circle cx="260.9" cy="502.5" r="3.7"/><circle cx="219.0" cy="518.1" r="3.7"/><circle cx="233.6" cy="501.4" r="3.7"/><circle cx="289.1" cy="505.1" r="3.7"/><circle cx="203.3" cy="495.6" r="3.7"/><circle cx="216.3" cy="547.0" r="3.7"/><circle cx="246.0" cy="513.0" r="3.7"/><circle cx="280.1" cy="511.6" r="3.7"/><circle cx="201.1" cy="523.2" r="3.7"/><circle cx="264.2" cy="528.7" r="3.7"/><circle cx="241.7" cy="544.5" r="3.7"/><circle cx="271.4" cy="495.1" r="3.7"/><circle cx="232.8" cy="538.5" r="3.7"/><circle cx="227.7" cy="520.5" r="3.7"/><circle cx="250.6" cy="542.7" r="3.7"/><circle cx="278.5" cy="537.1" r="3.7"/><circle cx="237.1" cy="542.2" r="3.7"/><circle cx="269.3" cy="500.7" r="3.7"/><circle cx="255.8" cy="499.0" r="3.7"/><circle cx="235.9" cy="509.6" r="3.7"/><circle cx="264.2" cy="542.8" r="3.7"/><circle cx="233.4" cy="529.8" r="3.7"/><circle cx="232.3" cy="502.9" r="3.7"/><circle cx="290.4" cy="506.1" r="3.7"/><circle cx="204.9" cy="507.0" r="3.7"/><circle cx="273.2" cy="497.8" r="3.7"/><circle cx="273.3" cy="522.9" r="3.7"/><circle cx="266.7" cy="495.2" r="3.7"/><circle cx="206.2" cy="492.6" r="3.7"/><circle cx="231.9" cy="514.2" r="3.7"/><circle cx="237.5" cy="506.0" r="3.7"/><circle cx="216.6" cy="548.0" r="3.7"/><circle cx="228.8" cy="538.5" r="3.7"/><circle cx="218.1" cy="512.6" r="3.7"/><circle cx="269.4" cy="495.3" r="3.7"/><circle cx="223.8" cy="532.8" r="3.7"/><circle cx="294.9" cy="506.1" r="3.7"/><circle cx="214.3" cy="508.7" r="3.7"/><circle cx="261.9" cy="510.3" r="3.7"/><circle cx="262.9" cy="497.8" r="3.7"/><circle cx="248.2" cy="524.5" r="3.7"/><circle cx="207.0" cy="544.8" r="3.7"/><circle cx="267.7" cy="515.9" r="3.7"/><circle cx="265.1" cy="513.4" r="3.7"/><circle cx="235.5" cy="499.2" r="3.7"/><circle cx="258.3" cy="524.9" r="3.7"/><circle cx="261.1" cy="515.5" r="3.7"/><circle cx="257.5" cy="526.6" r="3.7"/><circle cx="293.2" cy="493.3" r="3.7"/><circle cx="272.8" cy="505.4" r="3.7"/><circle cx="237.4" cy="547.0" r="3.7"/><circle cx="246.8" cy="499.5" r="3.7"/><circle cx="283.6" cy="530.7" r="3.7"/><circle cx="279.1" cy="520.3" r="3.7"/><circle cx="221.4" cy="542.5" r="3.7"/><circle cx="242.9" cy="522.2" r="3.7"/><circle cx="286.2" cy="496.6" r="3.7"/><circle cx="224.5" cy="530.2" r="3.7"/><circle cx="202.8" cy="523.6" r="3.7"/><circle cx="278.0" cy="518.8" r="3.7"/><circle cx="220.5" cy="542.0" r="3.7"/><circle cx="279.0" cy="493.3" r="3.7"/><circle cx="233.6" cy="489.4" r="3.7"/><circle cx="198.9" cy="507.9" r="3.7"/><circle cx="207.4" cy="495.5" r="3.7"/><circle cx="236.0" cy="545.7" r="3.7"/><circle cx="202.6" cy="556.1" r="3.7"/><circle cx="216.8" cy="529.2" r="3.7"/><circle cx="215.8" cy="532.1" r="3.7"/><circle cx="230.8" cy="505.6" r="3.7"/><circle cx="261.4" cy="502.8" r="3.7"/><circle cx="258.6" cy="534.1" r="3.7"/><circle cx="214.0" cy="491.5" r="3.7"/><circle cx="268.1" cy="516.9" r="3.7"/><circle cx="232.7" cy="496.6" r="3.7"/><circle cx="272.6" cy="509.0" r="3.7"/><circle cx="227.7" cy="512.6" r="3.7"/><circle cx="210.4" cy="529.3" r="3.7"/><circle cx="239.8" cy="543.5" r="3.7"/><circle cx="238.1" cy="516.2" r="3.7"/><circle cx="231.5" cy="534.7" r="3.7"/><circle cx="219.8" cy="525.4" r="3.7"/><circle cx="225.0" cy="547.4" r="3.7"/><circle cx="225.2" cy="546.1" r="3.7"/><circle cx="266.3" cy="516.1" r="3.7"/><circle cx="293.4" cy="511.0" r="3.7"/><circle cx="273.3" cy="527.1" r="3.7"/><circle cx="242.3" cy="486.7" r="3.7"/><circle cx="239.2" cy="503.0" r="3.7"/><circle cx="225.9" cy="534.1" r="3.7"/><circle cx="265.8" cy="500.3" r="3.7"/><circle cx="238.4" cy="491.8" r="3.7"/><circle cx="289.4" cy="500.8" r="3.7"/><circle cx="239.3" cy="507.6" r="3.7"/><circle cx="257.3" cy="522.9" r="3.7"/><circle cx="205.5" cy="549.2" r="3.7"/><circle cx="204.3" cy="509.2" r="3.7"/><circle cx="234.5" cy="536.2" r="3.7"/><circle cx="265.5" cy="507.7" r="3.7"/><circle cx="197.4" cy="529.4" r="3.7"/><circle cx="244.5" cy="509.1" r="3.7"/><circle cx="244.0" cy="505.6" r="3.7"/><circle cx="265.7" cy="527.4" r="3.7"/><circle cx="282.3" cy="530.7" r="3.7"/><circle cx="202.0" cy="516.6" r="3.7"/><circle cx="237.3" cy="531.2" r="3.7"/><circle cx="217.1" cy="509.7" r="3.7"/><circle cx="210.1" cy="511.5" r="3.7"/><circle cx="273.2" cy="488.2" r="3.7"/><circle cx="263.0" cy="429.2" r="3.7"/><circle cx="224.3" cy="452.9" r="3.7"/><circle cx="229.9" cy="460.4" r="3.7"/><circle cx="240.1" cy="453.9" r="3.7"/><circle cx="216.2" cy="469.2" r="3.7"/><circle cx="238.6" cy="470.0" r="3.7"/><circle cx="243.5" cy="476.8" r="3.7"/><circle cx="250.9" cy="473.3" r="3.7"/><circle cx="253.4" cy="471.7" r="3.7"/><circle cx="267.7" cy="455.3" r="3.7"/><circle cx="265.2" cy="466.6" r="3.7"/><circle cx="273.4" cy="470.6" r="3.7"/><circle cx="281.6" cy="465.9" r="3.7"/><circle cx="287.1" cy="461.0" r="3.7"/><circle cx="309.6" cy="449.2" r="3.7"/><circle cx="304.9" cy="455.3" r="3.7"/><circle cx="284.4" cy="477.8" r="3.7"/><circle cx="278.9" cy="483.9" r="3.7"/><circle cx="285.6" cy="487.0" r="3.7"/><circle cx="298.3" cy="484.9" r="3.7"/><circle cx="310.6" cy="490.0" r="3.7"/><circle cx="314.7" cy="489.6" r="3.7"/><circle cx="321.4" cy="489.6" r="3.7"/><circle cx="303.4" cy="497.2" r="3.7"/><circle cx="317.7" cy="499.3" r="3.7"/><circle cx="320.8" cy="499.3" r="3.7"/><circle cx="296.3" cy="495.2" r="3.7"/><circle cx="295.9" cy="512.1" r="3.7"/><circle cx="302.4" cy="522.8" r="3.7"/><circle cx="289.1" cy="532.6" r="3.7"/><circle cx="283.6" cy="520.7" r="3.7"/><circle cx="258.5" cy="481.5" r="3.7"/><circle cx="263.6" cy="478.2" r="3.7"/><circle cx="205.9" cy="494.1" r="3.7"/><circle cx="198.2" cy="504.8" r="3.7"/><circle cx="190.0" cy="516.6" r="3.7"/><circle cx="89.8" cy="603.0" r="3.7"/><circle cx="89.8" cy="609.1" r="3.7"/><circle cx="105.3" cy="556.6" r="3.7"/><circle cx="105.3" cy="598.3" r="3.7"/><circle cx="105.3" cy="603.0" r="3.7"/><circle cx="117.0" cy="591.3" r="3.7"/><circle cx="117.0" cy="603.0" r="3.7"/><circle cx="117.0" cy="609.1" r="3.7"/><circle cx="123.7" cy="578.5" r="3.7"/><circle cx="125.8" cy="591.3" r="3.7"/><circle cx="133.3" cy="588.7" r="3.7"/><circle cx="129.2" cy="603.0" r="3.7"/><circle cx="129.2" cy="609.1" r="3.7"/><circle cx="133.3" cy="609.1" r="3.7"/><circle cx="138.4" cy="603.0" r="3.7"/><circle cx="146.2" cy="603.0" r="3.7"/><circle cx="152.7" cy="603.0" r="3.7"/><circle cx="139.5" cy="563.5" r="3.7"/><circle cx="146.2" cy="557.0" r="3.7"/><circle cx="151.7" cy="551.9" r="3.7"/><circle cx="158.5" cy="560.1" r="3.7"/><circle cx="150.7" cy="576.4" r="3.7"/><circle cx="159.3" cy="575.8" r="3.7"/><circle cx="165.4" cy="576.4" r="3.7"/><circle cx="158.5" cy="531.5" r="3.7"/><circle cx="165.4" cy="533.5" r="3.7"/><circle cx="168.1" cy="520.2" r="3.7"/><circle cx="177.3" cy="520.2" r="3.7"/><circle cx="161.3" cy="542.7" r="3.7"/><circle cx="165.4" cy="551.9" r="3.7"/><circle cx="171.1" cy="544.7" r="3.7"/><circle cx="174.2" cy="530.4" r="3.7"/><circle cx="179.3" cy="534.5" r="3.7"/><circle cx="170.1" cy="557.4" r="3.7"/><circle cx="176.3" cy="556.0" r="3.7"/><circle cx="183.0" cy="562.1" r="3.7"/><circle cx="188.5" cy="567.2" r="3.7"/><circle cx="167.1" cy="570.3" r="3.7"/><circle cx="175.2" cy="568.2" r="3.7"/><circle cx="175.2" cy="576.4" r="3.7"/><circle cx="180.3" cy="583.6" r="3.7"/><circle cx="187.9" cy="586.0" r="3.7"/><circle cx="160.9" cy="588.7" r="3.7"/><circle cx="171.1" cy="587.7" r="3.7"/><circle cx="177.3" cy="591.7" r="3.7"/><circle cx="157.9" cy="594.8" r="3.7"/><circle cx="167.1" cy="597.9" r="3.7"/><circle cx="175.2" cy="598.9" r="3.7"/><circle cx="158.5" cy="603.0" r="3.7"/><circle cx="167.1" cy="603.0" r="3.7"/><circle cx="176.3" cy="603.0" r="3.7"/><circle cx="183.0" cy="603.0" r="3.7"/><circle cx="187.5" cy="603.0" r="3.7"/><circle cx="158.5" cy="609.1" r="3.7"/><circle cx="169.1" cy="609.1" r="3.7"/><circle cx="175.2" cy="609.1" r="3.7"/><circle cx="165.0" cy="617.3" r="3.7"/><circle cx="170.1" cy="617.3" r="3.7"/><circle cx="168.7" cy="631.6" r="3.7"/><circle cx="181.4" cy="631.6" r="3.7"/><circle cx="194.6" cy="617.3" r="3.7"/><circle cx="193.6" cy="524.3" r="3.7"/><circle cx="189.1" cy="536.2" r="3.7"/><circle cx="194.6" cy="538.6" r="3.7"/><circle cx="198.7" cy="542.7" r="3.7"/><circle cx="196.7" cy="565.2" r="3.7"/><circle cx="204.9" cy="566.2" r="3.7"/><circle cx="190.6" cy="576.4" r="3.7"/><circle cx="194.6" cy="593.8" r="3.7"/><circle cx="204.9" cy="578.5" r="3.7"/><circle cx="204.9" cy="586.6" r="3.7"/><circle cx="204.9" cy="597.9" r="3.7"/><circle cx="201.8" cy="609.1" r="3.7"/><circle cx="195.7" cy="603.0" r="3.7"/><circle cx="210.0" cy="609.1" r="3.7"/><circle cx="197.7" cy="552.9" r="3.7"/><circle cx="203.8" cy="555.0" r="3.7"/><circle cx="205.9" cy="548.8" r="3.7"/><circle cx="197.7" cy="526.4" r="3.7"/><circle cx="201.8" cy="518.2" r="3.7"/><circle cx="205.9" cy="514.1" r="3.7"/><circle cx="199.8" cy="513.1" r="3.7"/><circle cx="205.9" cy="529.4" r="3.7"/><circle cx="201.8" cy="532.5" r="3.7"/><circle cx="146.6" cy="483.5" r="3.7"/><circle cx="203.8" cy="507.4" r="3.7"/><circle cx="174.2" cy="536.1" r="3.7"/><circle cx="198.7" cy="533.0" r="3.7"/><circle cx="205.9" cy="522.8" r="3.7"/><circle cx="176.3" cy="550.4" r="3.7"/><circle cx="184.4" cy="569.2" r="3.7"/><circle cx="282.4" cy="538.2" r="3.7"/><circle cx="289.1" cy="557.4" r="3.7"/><circle cx="267.7" cy="548.8" r="3.7"/><circle cx="263.6" cy="562.7" r="3.7"/><circle cx="270.1" cy="570.3" r="3.7"/><circle cx="275.8" cy="572.9" r="3.7"/><circle cx="261.5" cy="578.5" r="3.7"/><circle cx="251.3" cy="558.6" r="3.7"/><circle cx="257.4" cy="550.9" r="3.7"/><circle cx="242.1" cy="562.1" r="3.7"/><circle cx="242.1" cy="573.8" r="3.7"/><circle cx="235.0" cy="562.1" r="3.7"/><circle cx="224.7" cy="560.1" r="3.7"/><circle cx="230.9" cy="570.3" r="3.7"/><circle cx="226.8" cy="569.3" r="3.7"/><circle cx="232.9" cy="581.5" r="3.7"/><circle cx="233.9" cy="588.7" r="3.7"/><circle cx="225.8" cy="584.0" r="3.7"/><circle cx="229.9" cy="598.3" r="3.7"/><circle cx="244.8" cy="598.3" r="3.7"/><circle cx="215.5" cy="580.5" r="3.7"/><circle cx="216.6" cy="586.0" r="3.7"/><circle cx="209.4" cy="588.7" r="3.7"/><circle cx="214.1" cy="568.9" r="3.7"/><circle cx="199.2" cy="597.9" r="3.7"/><circle cx="214.1" cy="603.0" r="3.7"/></g>
<rect x="71.40" y="394.00" width="257.00" height="256.85" fill="none" stroke="#111" stroke-width="1.9"/>
<line x1="65.80" y1="650.85" x2="71.40" y2="650.85" stroke="#111" stroke-width="1.9"/>
<line x1="65.80" y1="622.31" x2="71.40" y2="622.31" stroke="#111" stroke-width="1.9"/>
<line x1="65.80" y1="593.77" x2="71.40" y2="593.77" stroke="#111" stroke-width="1.9"/>
<line x1="65.80" y1="565.23" x2="71.40" y2="565.23" stroke="#111" stroke-width="1.9"/>
<line x1="65.80" y1="536.69" x2="71.40" y2="536.69" stroke="#111" stroke-width="1.9"/>
<line x1="65.80" y1="508.16" x2="71.40" y2="508.16" stroke="#111" stroke-width="1.9"/>
<line x1="65.80" y1="479.62" x2="71.40" y2="479.62" stroke="#111" stroke-width="1.9"/>
<line x1="65.80" y1="451.08" x2="71.40" y2="451.08" stroke="#111" stroke-width="1.9"/>
<line x1="65.80" y1="422.54" x2="71.40" y2="422.54" stroke="#111" stroke-width="1.9"/>
<line x1="65.80" y1="394.00" x2="71.40" y2="394.00" stroke="#111" stroke-width="1.9"/>
<line x1="71.40" y1="650.85" x2="71.40" y2="656.45" stroke="#111" stroke-width="1.9"/>
<line x1="108.11" y1="650.85" x2="108.11" y2="656.45" stroke="#111" stroke-width="1.9"/>
<line x1="144.83" y1="650.85" x2="144.83" y2="656.45" stroke="#111" stroke-width="1.9"/>
<line x1="181.54" y1="650.85" x2="181.54" y2="656.45" stroke="#111" stroke-width="1.9"/>
<line x1="218.26" y1="650.85" x2="218.26" y2="656.45" stroke="#111" stroke-width="1.9"/>
<line x1="254.97" y1="650.85" x2="254.97" y2="656.45" stroke="#111" stroke-width="1.9"/>
<line x1="291.69" y1="650.85" x2="291.69" y2="656.45" stroke="#111" stroke-width="1.9"/>
<line x1="328.40" y1="650.85" x2="328.40" y2="656.45" stroke="#111" stroke-width="1.9"/>
<text x="50.34" y="656.35" font-size="14.00" fill="#111" textLength="12.45" lengthAdjust="spacingAndGlyphs">-8</text>
<text x="50.34" y="627.81" font-size="14.00" fill="#111" textLength="12.45" lengthAdjust="spacingAndGlyphs">-6</text>
<text x="50.06" y="599.27" font-size="14.00" fill="#111" textLength="12.45" lengthAdjust="spacingAndGlyphs">-4</text>
<text x="50.34" y="570.73" font-size="14.00" fill="#111" textLength="12.45" lengthAdjust="spacingAndGlyphs">-2</text>
<text x="56.52" y="542.19" font-size="14.00" fill="#111" textLength="7.79" lengthAdjust="spacingAndGlyphs">0</text>
<text x="56.66" y="513.66" font-size="14.00" fill="#111" textLength="7.79" lengthAdjust="spacingAndGlyphs">2</text>
<text x="56.38" y="485.12" font-size="14.00" fill="#111" textLength="7.79" lengthAdjust="spacingAndGlyphs">4</text>
<text x="56.66" y="456.58" font-size="14.00" fill="#111" textLength="7.79" lengthAdjust="spacingAndGlyphs">6</text>
<text x="56.66" y="428.04" font-size="14.00" fill="#111" textLength="7.79" lengthAdjust="spacingAndGlyphs">8</text>
<text x="48.68" y="399.50" font-size="14.00" fill="#111" textLength="15.57" lengthAdjust="spacingAndGlyphs">10</text>
<text x="62.08" y="673.80" font-size="14.00" fill="#111" textLength="12.45" lengthAdjust="spacingAndGlyphs">-2</text>
<text x="102.09" y="673.80" font-size="14.00" fill="#111" textLength="7.79" lengthAdjust="spacingAndGlyphs">0</text>
<text x="138.57" y="673.80" font-size="14.00" fill="#111" textLength="7.79" lengthAdjust="spacingAndGlyphs">2</text>
<text x="175.11" y="673.80" font-size="14.00" fill="#111" textLength="7.79" lengthAdjust="spacingAndGlyphs">4</text>
<text x="211.52" y="673.80" font-size="14.00" fill="#111" textLength="7.79" lengthAdjust="spacingAndGlyphs">6</text>
<text x="248.06" y="673.80" font-size="14.00" fill="#111" textLength="7.79" lengthAdjust="spacingAndGlyphs">8</text>
<text x="280.27" y="673.80" font-size="14.00" fill="#111" textLength="15.57" lengthAdjust="spacingAndGlyphs">10</text>
<text x="316.81" y="673.80" font-size="14.00" fill="#111" textLength="15.57" lengthAdjust="spacingAndGlyphs">12</text>
<text x="128.04" y="693.40" font-size="14.10" fill="#111" textLength="99.16" lengthAdjust="spacingAndGlyphs">ppNAT titer (log</text>
<text x="227.09" y="698.00" font-size="8.00" fill="#111" textLength="4.59" lengthAdjust="spacingAndGlyphs">2</text>
<text x="235.41" y="693.40" font-size="14.10" fill="#111" textLength="35.02" lengthAdjust="spacingAndGlyphs">ID50)</text>
<text transform="translate(33.10,588.47) rotate(-90)" x="0" y="0" font-size="14.10" fill="#111" textLength="92.51" lengthAdjust="spacingAndGlyphs">IgG-N titer (log</text>
<text transform="translate(38.00,496.23) rotate(-90)" x="0" y="0" font-size="8.20" fill="#111" textLength="4.84" lengthAdjust="spacingAndGlyphs">2</text>
<text transform="translate(33.10,487.62) rotate(-90)" x="0" y="0" font-size="14.10" fill="#111" textLength="39.79" lengthAdjust="spacingAndGlyphs">S/CO)</text>
<text x="88.89" y="417.70" font-size="13.60" fill="#111" textLength="49.22" lengthAdjust="spacingAndGlyphs">r=0.725</text>
<text x="89.78" y="437.40" font-size="13.20" font-style="italic" fill="#111" textLength="75.20" lengthAdjust="spacingAndGlyphs">p&lt;0.000001</text>
<line x1="538.70" y1="393.25" x2="538.70" y2="649.70" stroke="#111" stroke-width="1" stroke-dasharray="2.2,2.2"/>
<line x1="423.00" y1="564.22" x2="679.30" y2="564.22" stroke="#111" stroke-width="1" stroke-dasharray="2.2,2.2"/>
<path d="M441.40,625.90 L447.16,622.62 L452.92,619.33 L458.68,616.05 L464.44,612.76 L470.20,609.47 L475.96,606.19 L481.72,602.89 L487.48,599.60 L493.24,596.30 L499.00,593.00 L504.76,589.70 L510.52,586.39 L516.28,583.08 L522.04,579.75 L527.80,576.42 L533.56,573.08 L539.32,569.72 L545.08,566.33 L550.84,562.92 L556.60,559.47 L562.36,555.97 L568.12,552.41 L573.88,548.77 L579.64,545.05 L585.40,541.23 L591.16,537.32 L596.92,533.35 L602.68,529.34 L608.44,525.29 L614.20,521.21 L619.96,517.11 L625.72,513.01 L631.48,508.89 L637.24,504.76 L643.00,500.63 L648.76,496.49 L654.52,492.35 L660.28,488.20 L666.04,484.05 L671.80,479.90 L671.80,496.50 L666.04,499.73 L660.28,502.97 L654.52,506.21 L648.76,509.45 L643.00,512.70 L637.24,515.95 L631.48,519.21 L625.72,522.47 L619.96,525.75 L614.20,529.04 L608.44,532.35 L602.68,535.68 L596.92,539.05 L591.16,542.47 L585.40,545.95 L579.64,549.51 L573.88,553.17 L568.12,556.92 L562.36,560.74 L556.60,564.63 L550.84,568.56 L545.08,572.54 L539.32,576.54 L533.56,580.56 L527.80,584.60 L522.04,588.66 L516.28,592.72 L510.52,596.79 L504.76,600.86 L499.00,604.95 L493.24,609.03 L487.48,613.12 L481.72,617.21 L475.96,621.30 L470.20,625.40 L464.44,629.50 L458.68,633.60 L452.92,637.70 L447.16,641.80 L441.40,645.90 Z" fill="#a3a3ab"/>
<line x1="441.40" y1="635.90" x2="671.80" y2="488.20" stroke="#0a0a0a" stroke-width="2"/>
<g fill="#d9f5e9" stroke="#3a9866" stroke-width="2.0"><circle cx="524.3" cy="591.6" r="3.7"/><circle cx="588.9" cy="600.1" r="3.7"/><circle cx="536.6" cy="606.4" r="3.7"/><circle cx="517.6" cy="575.2" r="3.7"/><circle cx="504.1" cy="564.5" r="3.7"/><circle cx="576.5" cy="581.1" r="3.7"/><circle cx="516.4" cy="604.4" r="3.7"/><circle cx="543.4" cy="578.7" r="3.7"/><circle cx="518.3" cy="584.2" r="3.7"/><circle cx="573.2" cy="559.3" r="3.7"/><circle cx="610.7" cy="555.0" r="3.7"/><circle cx="531.5" cy="573.6" r="3.7"/><circle cx="579.7" cy="574.3" r="3.7"/><circle cx="621.1" cy="542.0" r="3.7"/><circle cx="621.0" cy="546.6" r="3.7"/><circle cx="558.2" cy="588.3" r="3.7"/><circle cx="522.5" cy="607.1" r="3.7"/><circle cx="522.9" cy="580.9" r="3.7"/><circle cx="507.2" cy="570.4" r="3.7"/><circle cx="516.5" cy="616.2" r="3.7"/><circle cx="547.2" cy="577.0" r="3.7"/><circle cx="556.5" cy="559.8" r="3.7"/><circle cx="605.3" cy="556.0" r="3.7"/><circle cx="552.8" cy="571.6" r="3.7"/><circle cx="568.2" cy="565.2" r="3.7"/><circle cx="561.6" cy="573.6" r="3.7"/><circle cx="507.7" cy="608.6" r="3.7"/><circle cx="509.4" cy="580.6" r="3.7"/><circle cx="578.2" cy="568.9" r="3.7"/><circle cx="553.3" cy="561.1" r="3.7"/><circle cx="569.2" cy="553.5" r="3.7"/><circle cx="606.7" cy="576.9" r="3.7"/><circle cx="502.0" cy="569.5" r="3.7"/><circle cx="552.4" cy="587.0" r="3.7"/><circle cx="552.9" cy="559.9" r="3.7"/><circle cx="586.9" cy="586.2" r="3.7"/><circle cx="545.3" cy="577.8" r="3.7"/><circle cx="573.7" cy="601.2" r="3.7"/><circle cx="536.4" cy="557.1" r="3.7"/><circle cx="613.3" cy="571.3" r="3.7"/><circle cx="622.4" cy="569.1" r="3.7"/><circle cx="541.1" cy="594.4" r="3.7"/><circle cx="618.4" cy="562.4" r="3.7"/><circle cx="545.6" cy="607.1" r="3.7"/><circle cx="508.7" cy="602.1" r="3.7"/><circle cx="507.5" cy="589.4" r="3.7"/><circle cx="605.0" cy="570.6" r="3.7"/><circle cx="630.4" cy="539.3" r="3.7"/><circle cx="611.3" cy="572.6" r="3.7"/><circle cx="607.0" cy="566.9" r="3.7"/><circle cx="564.0" cy="572.3" r="3.7"/><circle cx="517.4" cy="561.6" r="3.7"/><circle cx="604.7" cy="539.0" r="3.7"/><circle cx="517.1" cy="608.5" r="3.7"/><circle cx="595.0" cy="582.4" r="3.7"/><circle cx="530.6" cy="570.3" r="3.7"/><circle cx="576.6" cy="609.0" r="3.7"/><circle cx="518.2" cy="612.1" r="3.7"/><circle cx="561.8" cy="566.9" r="3.7"/><circle cx="570.5" cy="595.3" r="3.7"/><circle cx="555.6" cy="603.4" r="3.7"/><circle cx="515.6" cy="600.1" r="3.7"/><circle cx="524.3" cy="585.9" r="3.7"/><circle cx="529.3" cy="564.0" r="3.7"/><circle cx="523.9" cy="564.4" r="3.7"/><circle cx="584.4" cy="579.9" r="3.7"/><circle cx="555.7" cy="584.8" r="3.7"/><circle cx="619.9" cy="565.1" r="3.7"/><circle cx="583.3" cy="576.3" r="3.7"/><circle cx="599.4" cy="553.8" r="3.7"/><circle cx="537.7" cy="599.0" r="3.7"/><circle cx="582.1" cy="555.9" r="3.7"/><circle cx="509.8" cy="607.6" r="3.7"/><circle cx="554.1" cy="597.8" r="3.7"/><circle cx="561.9" cy="588.8" r="3.7"/><circle cx="569.6" cy="553.6" r="3.7"/><circle cx="607.3" cy="541.8" r="3.7"/><circle cx="505.7" cy="596.1" r="3.7"/><circle cx="581.1" cy="582.7" r="3.7"/><circle cx="547.8" cy="546.3" r="3.7"/><circle cx="614.7" cy="541.4" r="3.7"/><circle cx="611.6" cy="552.4" r="3.7"/><circle cx="528.9" cy="581.2" r="3.7"/><circle cx="587.0" cy="543.5" r="3.7"/><circle cx="598.2" cy="565.7" r="3.7"/><circle cx="603.6" cy="556.6" r="3.7"/><circle cx="576.7" cy="555.6" r="3.7"/><circle cx="542.2" cy="555.5" r="3.7"/><circle cx="519.3" cy="576.7" r="3.7"/><circle cx="539.3" cy="558.5" r="3.7"/><circle cx="540.0" cy="578.9" r="3.7"/><circle cx="624.3" cy="547.1" r="3.7"/><circle cx="586.9" cy="582.0" r="3.7"/><circle cx="604.5" cy="581.2" r="3.7"/><circle cx="610.4" cy="556.2" r="3.7"/><circle cx="552.0" cy="604.2" r="3.7"/><circle cx="533.7" cy="573.8" r="3.7"/><circle cx="553.1" cy="598.9" r="3.7"/><circle cx="580.8" cy="564.3" r="3.7"/><circle cx="516.3" cy="618.2" r="3.7"/><circle cx="593.7" cy="539.0" r="3.7"/><circle cx="628.3" cy="541.8" r="3.7"/><circle cx="580.7" cy="543.4" r="3.7"/><circle cx="624.1" cy="538.1" r="3.7"/><circle cx="595.0" cy="538.7" r="3.7"/><circle cx="504.9" cy="584.5" r="3.7"/><circle cx="574.4" cy="539.5" r="3.7"/><circle cx="575.3" cy="549.3" r="3.7"/><circle cx="575.2" cy="564.8" r="3.7"/><circle cx="571.3" cy="550.5" r="3.7"/><circle cx="600.5" cy="570.5" r="3.7"/><circle cx="569.5" cy="539.7" r="3.7"/><circle cx="569.6" cy="583.3" r="3.7"/><circle cx="519.8" cy="559.8" r="3.7"/><circle cx="548.2" cy="596.5" r="3.7"/><circle cx="503.6" cy="577.1" r="3.7"/><circle cx="632.8" cy="540.4" r="3.7"/><circle cx="574.2" cy="585.3" r="3.7"/><circle cx="618.6" cy="569.6" r="3.7"/><circle cx="548.2" cy="564.1" r="3.7"/><circle cx="537.8" cy="585.9" r="3.7"/><circle cx="575.1" cy="563.1" r="3.7"/><circle cx="596.2" cy="573.9" r="3.7"/><circle cx="533.9" cy="612.8" r="3.7"/><circle cx="536.6" cy="576.1" r="3.7"/><circle cx="611.6" cy="562.8" r="3.7"/><circle cx="534.4" cy="592.1" r="3.7"/><circle cx="537.5" cy="580.1" r="3.7"/><circle cx="526.8" cy="553.7" r="3.7"/><circle cx="543.4" cy="562.5" r="3.7"/><circle cx="511.8" cy="602.1" r="3.7"/><circle cx="535.3" cy="552.3" r="3.7"/><circle cx="553.2" cy="565.0" r="3.7"/><circle cx="555.5" cy="544.8" r="3.7"/><circle cx="548.5" cy="604.5" r="3.7"/><circle cx="554.4" cy="558.7" r="3.7"/><circle cx="584.7" cy="600.1" r="3.7"/><circle cx="568.0" cy="607.1" r="3.7"/><circle cx="502.7" cy="578.0" r="3.7"/><circle cx="630.1" cy="545.6" r="3.7"/><circle cx="529.8" cy="612.5" r="3.7"/><circle cx="520.8" cy="597.6" r="3.7"/><circle cx="634.5" cy="550.1" r="3.7"/><circle cx="519.9" cy="594.3" r="3.7"/><circle cx="553.4" cy="543.4" r="3.7"/><circle cx="544.1" cy="549.2" r="3.7"/><circle cx="518.1" cy="580.5" r="3.7"/><circle cx="577.2" cy="584.2" r="3.7"/><circle cx="608.6" cy="580.5" r="3.7"/><circle cx="634.7" cy="539.9" r="3.7"/><circle cx="544.5" cy="601.8" r="3.7"/><circle cx="523.4" cy="562.6" r="3.7"/><circle cx="581.1" cy="559.3" r="3.7"/><circle cx="565.8" cy="587.4" r="3.7"/><circle cx="620.4" cy="574.9" r="3.7"/><circle cx="527.7" cy="618.5" r="3.7"/><circle cx="608.6" cy="569.0" r="3.7"/><circle cx="525.2" cy="599.6" r="3.7"/><circle cx="531.8" cy="605.3" r="3.7"/><circle cx="571.3" cy="592.0" r="3.7"/><circle cx="566.5" cy="549.1" r="3.7"/><circle cx="588.3" cy="566.2" r="3.7"/><circle cx="567.6" cy="589.3" r="3.7"/><circle cx="545.6" cy="565.0" r="3.7"/><circle cx="559.7" cy="581.7" r="3.7"/><circle cx="565.8" cy="562.8" r="3.7"/><circle cx="630.0" cy="553.8" r="3.7"/><circle cx="625.5" cy="547.3" r="3.7"/><circle cx="541.5" cy="548.1" r="3.7"/><circle cx="603.1" cy="553.9" r="3.7"/><circle cx="583.3" cy="546.9" r="3.7"/><circle cx="634.8" cy="558.4" r="3.7"/><circle cx="514.4" cy="595.1" r="3.7"/><circle cx="549.8" cy="583.5" r="3.7"/><circle cx="573.5" cy="567.0" r="3.7"/><circle cx="500.9" cy="577.7" r="3.7"/><circle cx="538.8" cy="584.8" r="3.7"/><circle cx="590.1" cy="574.6" r="3.7"/><circle cx="513.4" cy="577.8" r="3.7"/><circle cx="568.9" cy="590.9" r="3.7"/><circle cx="638.0" cy="558.0" r="3.7"/><circle cx="563.3" cy="540.2" r="3.7"/><circle cx="613.9" cy="553.9" r="3.7"/><circle cx="572.0" cy="571.3" r="3.7"/><circle cx="570.0" cy="576.4" r="3.7"/><circle cx="571.9" cy="563.7" r="3.7"/><circle cx="528.5" cy="552.1" r="3.7"/><circle cx="614.1" cy="548.6" r="3.7"/><circle cx="616.0" cy="560.1" r="3.7"/><circle cx="503.9" cy="579.1" r="3.7"/><circle cx="549.3" cy="604.6" r="3.7"/><circle cx="509.8" cy="593.3" r="3.7"/><circle cx="624.0" cy="560.8" r="3.7"/><circle cx="527.0" cy="595.7" r="3.7"/><circle cx="588.8" cy="543.9" r="3.7"/><circle cx="603.5" cy="537.8" r="3.7"/><circle cx="591.1" cy="577.3" r="3.7"/><circle cx="555.1" cy="564.7" r="3.7"/><circle cx="613.3" cy="553.3" r="3.7"/><circle cx="599.0" cy="579.5" r="3.7"/><circle cx="545.4" cy="557.4" r="3.7"/><circle cx="527.2" cy="591.5" r="3.7"/><circle cx="629.7" cy="559.0" r="3.7"/><circle cx="547.9" cy="557.9" r="3.7"/><circle cx="574.6" cy="576.9" r="3.7"/><circle cx="576.5" cy="575.6" r="3.7"/><circle cx="606.1" cy="555.3" r="3.7"/><circle cx="528.9" cy="585.4" r="3.7"/><circle cx="534.8" cy="562.3" r="3.7"/><circle cx="551.0" cy="580.5" r="3.7"/><circle cx="559.3" cy="569.6" r="3.7"/><circle cx="534.0" cy="575.7" r="3.7"/><circle cx="636.4" cy="543.6" r="3.7"/><circle cx="562.0" cy="595.0" r="3.7"/><circle cx="628.4" cy="555.4" r="3.7"/><circle cx="575.4" cy="549.8" r="3.7"/><circle cx="609.1" cy="537.7" r="3.7"/><circle cx="522.0" cy="582.7" r="3.7"/><circle cx="539.3" cy="598.1" r="3.7"/><circle cx="603.5" cy="561.6" r="3.7"/><circle cx="600.6" cy="574.1" r="3.7"/><circle cx="561.9" cy="542.2" r="3.7"/><circle cx="626.4" cy="537.6" r="3.7"/><circle cx="510.8" cy="557.0" r="3.7"/><circle cx="599.0" cy="572.4" r="3.7"/><circle cx="518.8" cy="571.3" r="3.7"/><circle cx="581.8" cy="600.3" r="3.7"/><circle cx="557.7" cy="591.7" r="3.7"/><circle cx="507.3" cy="597.2" r="3.7"/><circle cx="511.0" cy="568.1" r="3.7"/><circle cx="567.0" cy="542.1" r="3.7"/><circle cx="569.6" cy="586.0" r="3.7"/><circle cx="517.7" cy="560.2" r="3.7"/><circle cx="532.0" cy="611.4" r="3.7"/><circle cx="572.7" cy="569.9" r="3.7"/><circle cx="537.1" cy="604.6" r="3.7"/><circle cx="600.9" cy="573.3" r="3.7"/><circle cx="552.5" cy="572.3" r="3.7"/><circle cx="564.8" cy="561.2" r="3.7"/><circle cx="589.0" cy="570.0" r="3.7"/><circle cx="543.7" cy="602.9" r="3.7"/><circle cx="565.1" cy="575.6" r="3.7"/><circle cx="625.2" cy="573.9" r="3.7"/><circle cx="557.5" cy="593.6" r="3.7"/><circle cx="605.5" cy="559.5" r="3.7"/><circle cx="562.3" cy="592.0" r="3.7"/><circle cx="532.7" cy="602.7" r="3.7"/><circle cx="549.1" cy="597.3" r="3.7"/><circle cx="503.1" cy="570.4" r="3.7"/><circle cx="609.1" cy="556.1" r="3.7"/><circle cx="587.5" cy="552.6" r="3.7"/><circle cx="528.5" cy="615.7" r="3.7"/><circle cx="509.2" cy="585.6" r="3.7"/><circle cx="556.1" cy="586.3" r="3.7"/><circle cx="536.3" cy="596.7" r="3.7"/><circle cx="580.1" cy="582.1" r="3.7"/><circle cx="611.2" cy="562.1" r="3.7"/><circle cx="539.5" cy="584.2" r="3.7"/><circle cx="575.5" cy="577.6" r="3.7"/><circle cx="524.3" cy="589.5" r="3.7"/><circle cx="541.6" cy="605.9" r="3.7"/><circle cx="560.1" cy="545.7" r="3.7"/><circle cx="586.4" cy="574.4" r="3.7"/><circle cx="550.6" cy="601.6" r="3.7"/><circle cx="511.4" cy="559.9" r="3.7"/><circle cx="617.9" cy="567.1" r="3.7"/><circle cx="539.4" cy="565.2" r="3.7"/><circle cx="553.7" cy="592.4" r="3.7"/><circle cx="521.7" cy="560.8" r="3.7"/><circle cx="536.0" cy="548.7" r="3.7"/><circle cx="538.1" cy="577.1" r="3.7"/><circle cx="530.6" cy="596.6" r="3.7"/><circle cx="599.6" cy="563.2" r="3.7"/><circle cx="625.0" cy="552.4" r="3.7"/><circle cx="567.8" cy="561.1" r="3.7"/><circle cx="563.2" cy="606.5" r="3.7"/><circle cx="640.4" cy="552.9" r="3.7"/><circle cx="532.2" cy="589.0" r="3.7"/><circle cx="522.0" cy="620.3" r="3.7"/><circle cx="549.0" cy="572.6" r="3.7"/><circle cx="561.7" cy="607.9" r="3.7"/><circle cx="525.0" cy="564.9" r="3.7"/><circle cx="600.7" cy="552.2" r="3.7"/><circle cx="532.7" cy="565.7" r="3.7"/><circle cx="533.1" cy="598.0" r="3.7"/><circle cx="507.4" cy="595.9" r="3.7"/><circle cx="509.6" cy="609.1" r="3.7"/><circle cx="577.6" cy="585.6" r="3.7"/><circle cx="503.7" cy="596.0" r="3.7"/><circle cx="525.7" cy="557.3" r="3.7"/><circle cx="546.3" cy="575.1" r="3.7"/><circle cx="541.6" cy="583.6" r="3.7"/><circle cx="551.1" cy="565.3" r="3.7"/><circle cx="535.9" cy="559.1" r="3.7"/><circle cx="544.6" cy="586.4" r="3.7"/><circle cx="538.7" cy="542.8" r="3.7"/><circle cx="620.4" cy="575.2" r="3.7"/><circle cx="573.1" cy="560.9" r="3.7"/><circle cx="598.7" cy="578.1" r="3.7"/><circle cx="559.2" cy="568.0" r="3.7"/><circle cx="572.0" cy="575.2" r="3.7"/><circle cx="575.5" cy="581.1" r="3.7"/><circle cx="541.1" cy="549.9" r="3.7"/><circle cx="606.1" cy="573.9" r="3.7"/><circle cx="556.9" cy="582.9" r="3.7"/><circle cx="573.5" cy="560.7" r="3.7"/><circle cx="521.7" cy="568.0" r="3.7"/><circle cx="591.2" cy="542.6" r="3.7"/><circle cx="562.3" cy="602.0" r="3.7"/><circle cx="584.5" cy="585.6" r="3.7"/><circle cx="525.2" cy="574.8" r="3.7"/><circle cx="531.4" cy="573.2" r="3.7"/><circle cx="577.6" cy="563.2" r="3.7"/><circle cx="593.6" cy="552.0" r="3.7"/><circle cx="511.0" cy="601.9" r="3.7"/><circle cx="579.8" cy="541.7" r="3.7"/><circle cx="590.8" cy="556.4" r="3.7"/><circle cx="608.0" cy="537.7" r="3.7"/><circle cx="505.5" cy="605.2" r="3.7"/><circle cx="546.2" cy="556.1" r="3.7"/><circle cx="617.9" cy="549.3" r="3.7"/><circle cx="580.4" cy="567.4" r="3.7"/><circle cx="617.2" cy="555.5" r="3.7"/><circle cx="601.9" cy="549.4" r="3.7"/><circle cx="534.7" cy="557.9" r="3.7"/><circle cx="534.3" cy="558.9" r="3.7"/><circle cx="589.5" cy="567.4" r="3.7"/><circle cx="602.2" cy="577.5" r="3.7"/><circle cx="509.0" cy="577.3" r="3.7"/><circle cx="555.0" cy="580.9" r="3.7"/><circle cx="547.4" cy="546.0" r="3.7"/><circle cx="526.2" cy="578.1" r="3.7"/><circle cx="623.0" cy="476.2" r="3.7"/><circle cx="627.8" cy="445.1" r="3.7"/><circle cx="600.0" cy="473.8" r="3.7"/><circle cx="620.6" cy="480.8" r="3.7"/><circle cx="589.8" cy="479.7" r="3.7"/><circle cx="596.9" cy="440.6" r="3.7"/><circle cx="653.8" cy="433.2" r="3.7"/><circle cx="594.3" cy="447.9" r="3.7"/><circle cx="600.1" cy="437.6" r="3.7"/><circle cx="600.8" cy="468.8" r="3.7"/><circle cx="598.4" cy="440.9" r="3.7"/><circle cx="625.6" cy="453.2" r="3.7"/><circle cx="597.1" cy="464.5" r="3.7"/><circle cx="623.6" cy="453.9" r="3.7"/><circle cx="621.1" cy="433.3" r="3.7"/><circle cx="631.5" cy="442.4" r="3.7"/><circle cx="615.0" cy="463.0" r="3.7"/><circle cx="655.6" cy="438.8" r="3.7"/><circle cx="614.4" cy="472.8" r="3.7"/><circle cx="613.5" cy="472.7" r="3.7"/><circle cx="653.2" cy="433.4" r="3.7"/><circle cx="607.1" cy="448.3" r="3.7"/><circle cx="599.7" cy="454.2" r="3.7"/><circle cx="612.8" cy="466.7" r="3.7"/><circle cx="570.7" cy="433.5" r="3.7"/><circle cx="647.3" cy="428.2" r="3.7"/><circle cx="660.6" cy="431.8" r="3.7"/><circle cx="671.8" cy="431.4" r="3.7"/><circle cx="670.8" cy="434.9" r="3.7"/><circle cx="664.7" cy="436.3" r="3.7"/><circle cx="654.5" cy="434.9" r="3.7"/><circle cx="649.3" cy="439.0" r="3.7"/><circle cx="655.5" cy="442.0" r="3.7"/><circle cx="646.3" cy="446.5" r="3.7"/><circle cx="640.6" cy="450.6" r="3.7"/><circle cx="636.1" cy="454.3" r="3.7"/><circle cx="667.7" cy="453.9" r="3.7"/><circle cx="601.3" cy="437.0" r="3.7"/><circle cx="610.5" cy="439.6" r="3.7"/><circle cx="619.7" cy="435.5" r="3.7"/><circle cx="625.4" cy="434.9" r="3.7"/><circle cx="621.7" cy="438.4" r="3.7"/><circle cx="598.2" cy="442.5" r="3.7"/><circle cx="587.4" cy="444.5" r="3.7"/><circle cx="588.0" cy="448.6" r="3.7"/><circle cx="616.6" cy="443.7" r="3.7"/><circle cx="624.8" cy="446.5" r="3.7"/><circle cx="631.0" cy="447.8" r="3.7"/><circle cx="635.0" cy="442.0" r="3.7"/><circle cx="637.1" cy="439.0" r="3.7"/><circle cx="637.1" cy="445.7" r="3.7"/><circle cx="575.8" cy="452.3" r="3.7"/><circle cx="577.8" cy="458.8" r="3.7"/><circle cx="573.7" cy="460.4" r="3.7"/><circle cx="586.0" cy="456.8" r="3.7"/><circle cx="596.2" cy="450.6" r="3.7"/><circle cx="602.3" cy="453.5" r="3.7"/><circle cx="609.5" cy="451.2" r="3.7"/><circle cx="617.7" cy="453.3" r="3.7"/><circle cx="622.8" cy="454.3" r="3.7"/><circle cx="611.5" cy="460.0" r="3.7"/><circle cx="619.7" cy="461.5" r="3.7"/><circle cx="622.8" cy="466.2" r="3.7"/><circle cx="633.0" cy="465.6" r="3.7"/><circle cx="646.3" cy="464.5" r="3.7"/><circle cx="648.3" cy="470.3" r="3.7"/><circle cx="591.1" cy="463.5" r="3.7"/><circle cx="590.1" cy="467.0" r="3.7"/><circle cx="600.3" cy="464.5" r="3.7"/><circle cx="605.0" cy="468.2" r="3.7"/><circle cx="568.6" cy="471.1" r="3.7"/><circle cx="575.8" cy="474.7" r="3.7"/><circle cx="580.9" cy="474.7" r="3.7"/><circle cx="573.7" cy="476.8" r="3.7"/><circle cx="591.1" cy="476.8" r="3.7"/><circle cx="598.2" cy="477.8" r="3.7"/><circle cx="609.5" cy="472.7" r="3.7"/><circle cx="609.5" cy="476.8" r="3.7"/><circle cx="616.6" cy="474.7" r="3.7"/><circle cx="616.6" cy="470.3" r="3.7"/><circle cx="562.1" cy="478.4" r="3.7"/><circle cx="601.3" cy="482.9" r="3.7"/><circle cx="617.7" cy="486.0" r="3.7"/><circle cx="621.7" cy="482.9" r="3.7"/><circle cx="631.0" cy="480.9" r="3.7"/><circle cx="644.2" cy="480.9" r="3.7"/><circle cx="572.3" cy="492.7" r="3.7"/><circle cx="577.8" cy="489.1" r="3.7"/><circle cx="581.9" cy="491.1" r="3.7"/><circle cx="593.5" cy="490.1" r="3.7"/><circle cx="600.3" cy="492.1" r="3.7"/><circle cx="607.4" cy="493.1" r="3.7"/><circle cx="600.3" cy="500.9" r="3.7"/><circle cx="610.5" cy="499.7" r="3.7"/><circle cx="580.9" cy="523.4" r="3.7"/><circle cx="566.6" cy="528.3" r="3.7"/><circle cx="564.5" cy="531.0" r="3.7"/><circle cx="623.8" cy="532.0" r="3.7"/><circle cx="518.0" cy="483.7" r="3.7"/><circle cx="441.4" cy="549.7" r="3.7"/><circle cx="484.3" cy="549.7" r="3.7"/><circle cx="468.0" cy="561.6" r="3.7"/><circle cx="482.3" cy="563.6" r="3.7"/><circle cx="468.0" cy="574.6" r="3.7"/><circle cx="481.2" cy="577.3" r="3.7"/><circle cx="489.4" cy="573.2" r="3.7"/><circle cx="492.5" cy="580.4" r="3.7"/><circle cx="497.6" cy="582.0" r="3.7"/><circle cx="477.2" cy="588.1" r="3.7"/><circle cx="482.3" cy="591.0" r="3.7"/><circle cx="456.7" cy="592.2" r="3.7"/><circle cx="456.7" cy="595.7" r="3.7"/><circle cx="441.0" cy="580.7" r="3.7"/><circle cx="441.0" cy="583.7" r="3.7"/><circle cx="441.0" cy="590.9" r="3.7"/><circle cx="441.0" cy="597.0" r="3.7"/><circle cx="441.0" cy="603.5" r="3.7"/><circle cx="441.0" cy="610.3" r="3.7"/><circle cx="441.0" cy="618.5" r="3.7"/><circle cx="456.7" cy="606.9" r="3.7"/><circle cx="468.0" cy="609.0" r="3.7"/><circle cx="475.1" cy="606.9" r="3.7"/><circle cx="490.4" cy="600.8" r="3.7"/><circle cx="501.7" cy="599.2" r="3.7"/><circle cx="502.7" cy="589.6" r="3.7"/><circle cx="517.4" cy="537.4" r="3.7"/><circle cx="521.1" cy="533.4" r="3.7"/><circle cx="526.2" cy="530.9" r="3.7"/><circle cx="526.2" cy="535.8" r="3.7"/><circle cx="532.3" cy="537.9" r="3.7"/><circle cx="519.1" cy="548.7" r="3.7"/><circle cx="522.1" cy="552.2" r="3.7"/><circle cx="525.2" cy="555.8" r="3.7"/><circle cx="528.9" cy="548.1" r="3.7"/><circle cx="536.4" cy="549.7" r="3.7"/><circle cx="540.5" cy="543.6" r="3.7"/><circle cx="508.8" cy="558.3" r="3.7"/><circle cx="516.0" cy="557.5" r="3.7"/><circle cx="540.5" cy="558.9" r="3.7"/><circle cx="546.6" cy="549.7" r="3.7"/><circle cx="557.9" cy="542.6" r="3.7"/><circle cx="556.9" cy="551.7" r="3.7"/><circle cx="481.2" cy="610.3" r="3.7"/><circle cx="480.6" cy="613.8" r="3.7"/><circle cx="497.6" cy="607.6" r="3.7"/><circle cx="497.6" cy="618.5" r="3.7"/><circle cx="519.1" cy="634.8" r="3.7"/><circle cx="525.2" cy="634.8" r="3.7"/><circle cx="545.6" cy="634.8" r="3.7"/><circle cx="520.1" cy="624.6" r="3.7"/><circle cx="528.9" cy="624.6" r="3.7"/><circle cx="515.0" cy="618.5" r="3.7"/><circle cx="520.1" cy="617.4" r="3.7"/><circle cx="510.9" cy="613.4" r="3.7"/><circle cx="523.1" cy="610.3" r="3.7"/><circle cx="656.1" cy="541.7" r="3.7"/><circle cx="661.6" cy="548.8" r="3.7"/><circle cx="646.3" cy="548.8" r="3.7"/><circle cx="647.3" cy="589.7" r="3.7"/><circle cx="621.7" cy="595.4" r="3.7"/><circle cx="629.9" cy="570.9" r="3.7"/><circle cx="629.9" cy="581.9" r="3.7"/><circle cx="623.8" cy="582.6" r="3.7"/><circle cx="607.4" cy="592.8" r="3.7"/><circle cx="602.3" cy="590.7" r="3.7"/><circle cx="601.3" cy="605.0" r="3.7"/><circle cx="593.1" cy="605.0" r="3.7"/><circle cx="585.0" cy="607.7" r="3.7"/><circle cx="578.8" cy="617.9" r="3.7"/><circle cx="585.0" cy="618.3" r="3.7"/><circle cx="579.9" cy="624.4" r="3.7"/></g>
<rect x="423.00" y="393.25" width="256.30" height="256.45" fill="none" stroke="#111" stroke-width="1.9"/>
<line x1="417.40" y1="649.70" x2="423.00" y2="649.70" stroke="#111" stroke-width="1.9"/>
<line x1="417.40" y1="606.96" x2="423.00" y2="606.96" stroke="#111" stroke-width="1.9"/>
<line x1="417.40" y1="564.22" x2="423.00" y2="564.22" stroke="#111" stroke-width="1.9"/>
<line x1="417.40" y1="521.48" x2="423.00" y2="521.48" stroke="#111" stroke-width="1.9"/>
<line x1="417.40" y1="478.73" x2="423.00" y2="478.73" stroke="#111" stroke-width="1.9"/>
<line x1="417.40" y1="435.99" x2="423.00" y2="435.99" stroke="#111" stroke-width="1.9"/>
<line x1="417.40" y1="393.25" x2="423.00" y2="393.25" stroke="#111" stroke-width="1.9"/>
<line x1="423.00" y1="649.70" x2="423.00" y2="655.30" stroke="#111" stroke-width="1.9"/>
<line x1="459.61" y1="649.70" x2="459.61" y2="655.30" stroke="#111" stroke-width="1.9"/>
<line x1="496.23" y1="649.70" x2="496.23" y2="655.30" stroke="#111" stroke-width="1.9"/>
<line x1="532.84" y1="649.70" x2="532.84" y2="655.30" stroke="#111" stroke-width="1.9"/>
<line x1="569.46" y1="649.70" x2="569.46" y2="655.30" stroke="#111" stroke-width="1.9"/>
<line x1="606.07" y1="649.70" x2="606.07" y2="655.30" stroke="#111" stroke-width="1.9"/>
<line x1="642.69" y1="649.70" x2="642.69" y2="655.30" stroke="#111" stroke-width="1.9"/>
<line x1="679.30" y1="649.70" x2="679.30" y2="655.30" stroke="#111" stroke-width="1.9"/>
<text x="399.94" y="655.50" font-size="14.00" fill="#111" textLength="12.45" lengthAdjust="spacingAndGlyphs">-8</text>
<text x="399.66" y="612.76" font-size="14.00" fill="#111" textLength="12.45" lengthAdjust="spacingAndGlyphs">-4</text>
<text x="406.02" y="570.02" font-size="14.00" fill="#111" textLength="7.79" lengthAdjust="spacingAndGlyphs">0</text>
<text x="405.88" y="527.27" font-size="14.00" fill="#111" textLength="7.79" lengthAdjust="spacingAndGlyphs">4</text>
<text x="406.16" y="484.53" font-size="14.00" fill="#111" textLength="7.79" lengthAdjust="spacingAndGlyphs">8</text>
<text x="398.32" y="441.79" font-size="14.00" fill="#111" textLength="15.57" lengthAdjust="spacingAndGlyphs">12</text>
<text x="398.32" y="399.05" font-size="14.00" fill="#111" textLength="15.57" lengthAdjust="spacingAndGlyphs">16</text>
<text x="415.14" y="673.60" font-size="14.00" fill="#111" textLength="12.45" lengthAdjust="spacingAndGlyphs">-2</text>
<text x="455.19" y="673.60" font-size="14.00" fill="#111" textLength="7.79" lengthAdjust="spacingAndGlyphs">0</text>
<text x="491.71" y="673.60" font-size="14.00" fill="#111" textLength="7.79" lengthAdjust="spacingAndGlyphs">2</text>
<text x="528.29" y="673.60" font-size="14.00" fill="#111" textLength="7.79" lengthAdjust="spacingAndGlyphs">4</text>
<text x="564.74" y="673.60" font-size="14.00" fill="#111" textLength="7.79" lengthAdjust="spacingAndGlyphs">6</text>
<text x="601.32" y="673.60" font-size="14.00" fill="#111" textLength="7.79" lengthAdjust="spacingAndGlyphs">8</text>
<text x="633.57" y="673.60" font-size="14.00" fill="#111" textLength="15.57" lengthAdjust="spacingAndGlyphs">10</text>
<text x="670.15" y="673.60" font-size="14.00" fill="#111" textLength="15.57" lengthAdjust="spacingAndGlyphs">12</text>
<text x="480.94" y="693.40" font-size="14.10" fill="#111" textLength="99.16" lengthAdjust="spacingAndGlyphs">ppNAT titer (log</text>
<text x="579.99" y="698.00" font-size="8.00" fill="#111" textLength="4.59" lengthAdjust="spacingAndGlyphs">2</text>
<text x="588.31" y="693.40" font-size="14.10" fill="#111" textLength="35.02" lengthAdjust="spacingAndGlyphs">ID50)</text>
<text transform="translate(387.00,581.37) rotate(-90)" x="0" y="0" font-size="14.10" fill="#111" textLength="78.41" lengthAdjust="spacingAndGlyphs">IgM titer (log</text>
<text transform="translate(392.00,503.46) rotate(-90)" x="0" y="0" font-size="8.20" fill="#111" textLength="5.08" lengthAdjust="spacingAndGlyphs">2</text>
<text transform="translate(387.00,494.62) rotate(-90)" x="0" y="0" font-size="14.10" fill="#111" textLength="39.79" lengthAdjust="spacingAndGlyphs">S/CO)</text>
<text x="435.80" y="417.70" font-size="13.60" fill="#111" textLength="48.65" lengthAdjust="spacingAndGlyphs">r=0.660</text>
<text x="436.88" y="437.40" font-size="13.20" font-style="italic" fill="#111" textLength="74.79" lengthAdjust="spacingAndGlyphs">p&lt;0.000001</text>
</svg>
</body></html>
